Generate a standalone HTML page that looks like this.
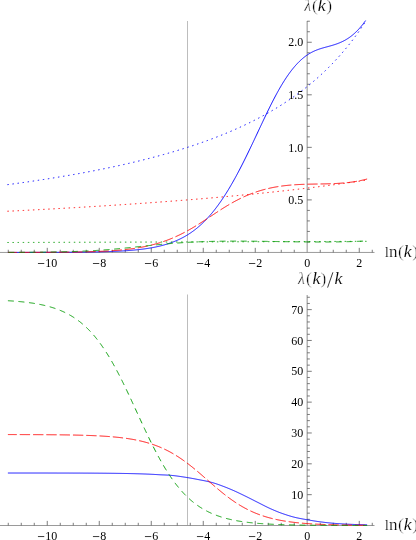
<!DOCTYPE html>
<html>
<head>
<meta charset="utf-8">
<title>lambda(k) plots</title>
<style>
html,body{margin:0;padding:0;background:#fff;}
body{width:416px;height:540px;overflow:hidden;font-family:"Liberation Serif",serif;}
svg{display:block;}
</style>
</head>
<body>
<div id="wrap" style="will-change:transform;width:416px;height:540px;background:#fff">
<svg width="416" height="540" viewBox="0 0 416 540">
<rect x="0" y="0" width="416" height="540" fill="#ffffff"/>
<rect x="187" y="21.00" width="1" height="231.45" fill="#bdbdbd"/>
<rect x="187" y="294.50" width="1" height="231.00" fill="#bdbdbd"/>
<g stroke="#808080" stroke-width="0.90" fill="none">
<line x1="0" y1="252.45" x2="374.5" y2="252.45" stroke="#8e8e8e"/>
<line x1="307.15" y1="21.00" x2="307.15" y2="252.45"/>
<line x1="0" y1="525.50" x2="374.5" y2="525.50" stroke="#8e8e8e"/>
<line x1="307.15" y1="295.00" x2="307.15" y2="525.50"/>
</g>
<g stroke="#5a5a5a" stroke-width="0.80" fill="none">
<line x1="8.25" y1="252.45" x2="8.25" y2="249.75"/>
<line x1="21.25" y1="252.45" x2="21.25" y2="249.75"/>
<line x1="34.25" y1="252.45" x2="34.25" y2="249.75"/>
<line x1="47.25" y1="252.45" x2="47.25" y2="247.85"/>
<line x1="60.25" y1="252.45" x2="60.25" y2="249.75"/>
<line x1="73.25" y1="252.45" x2="73.25" y2="249.75"/>
<line x1="86.25" y1="252.45" x2="86.25" y2="249.75"/>
<line x1="99.25" y1="252.45" x2="99.25" y2="247.85"/>
<line x1="112.25" y1="252.45" x2="112.25" y2="249.75"/>
<line x1="125.25" y1="252.45" x2="125.25" y2="249.75"/>
<line x1="138.25" y1="252.45" x2="138.25" y2="249.75"/>
<line x1="151.25" y1="252.45" x2="151.25" y2="247.85"/>
<line x1="164.25" y1="252.45" x2="164.25" y2="249.75"/>
<line x1="177.25" y1="252.45" x2="177.25" y2="249.75"/>
<line x1="190.25" y1="252.45" x2="190.25" y2="249.75"/>
<line x1="203.25" y1="252.45" x2="203.25" y2="247.85"/>
<line x1="216.25" y1="252.45" x2="216.25" y2="249.75"/>
<line x1="229.25" y1="252.45" x2="229.25" y2="249.75"/>
<line x1="242.25" y1="252.45" x2="242.25" y2="249.75"/>
<line x1="255.25" y1="252.45" x2="255.25" y2="247.85"/>
<line x1="268.25" y1="252.45" x2="268.25" y2="249.75"/>
<line x1="281.25" y1="252.45" x2="281.25" y2="249.75"/>
<line x1="294.25" y1="252.45" x2="294.25" y2="249.75"/>
<line x1="320.25" y1="252.45" x2="320.25" y2="249.75"/>
<line x1="333.25" y1="252.45" x2="333.25" y2="249.75"/>
<line x1="346.25" y1="252.45" x2="346.25" y2="249.75"/>
<line x1="359.25" y1="252.45" x2="359.25" y2="247.85"/>
<line x1="372.25" y1="252.45" x2="372.25" y2="249.75"/>
<line x1="8.25" y1="525.50" x2="8.25" y2="522.80"/>
<line x1="21.25" y1="525.50" x2="21.25" y2="522.80"/>
<line x1="34.25" y1="525.50" x2="34.25" y2="522.80"/>
<line x1="47.25" y1="525.50" x2="47.25" y2="520.90"/>
<line x1="60.25" y1="525.50" x2="60.25" y2="522.80"/>
<line x1="73.25" y1="525.50" x2="73.25" y2="522.80"/>
<line x1="86.25" y1="525.50" x2="86.25" y2="522.80"/>
<line x1="99.25" y1="525.50" x2="99.25" y2="520.90"/>
<line x1="112.25" y1="525.50" x2="112.25" y2="522.80"/>
<line x1="125.25" y1="525.50" x2="125.25" y2="522.80"/>
<line x1="138.25" y1="525.50" x2="138.25" y2="522.80"/>
<line x1="151.25" y1="525.50" x2="151.25" y2="520.90"/>
<line x1="164.25" y1="525.50" x2="164.25" y2="522.80"/>
<line x1="177.25" y1="525.50" x2="177.25" y2="522.80"/>
<line x1="190.25" y1="525.50" x2="190.25" y2="522.80"/>
<line x1="203.25" y1="525.50" x2="203.25" y2="520.90"/>
<line x1="216.25" y1="525.50" x2="216.25" y2="522.80"/>
<line x1="229.25" y1="525.50" x2="229.25" y2="522.80"/>
<line x1="242.25" y1="525.50" x2="242.25" y2="522.80"/>
<line x1="255.25" y1="525.50" x2="255.25" y2="520.90"/>
<line x1="268.25" y1="525.50" x2="268.25" y2="522.80"/>
<line x1="281.25" y1="525.50" x2="281.25" y2="522.80"/>
<line x1="294.25" y1="525.50" x2="294.25" y2="522.80"/>
<line x1="320.25" y1="525.50" x2="320.25" y2="522.80"/>
<line x1="333.25" y1="525.50" x2="333.25" y2="522.80"/>
<line x1="346.25" y1="525.50" x2="346.25" y2="522.80"/>
<line x1="359.25" y1="525.50" x2="359.25" y2="520.90"/>
<line x1="372.25" y1="525.50" x2="372.25" y2="522.80"/>
<line x1="307.15" y1="241.94" x2="309.85" y2="241.94"/>
<line x1="307.15" y1="231.43" x2="309.85" y2="231.43"/>
<line x1="307.15" y1="220.92" x2="309.85" y2="220.92"/>
<line x1="307.15" y1="210.41" x2="309.85" y2="210.41"/>
<line x1="307.15" y1="199.90" x2="311.75" y2="199.90"/>
<line x1="307.15" y1="189.39" x2="309.85" y2="189.39"/>
<line x1="307.15" y1="178.88" x2="309.85" y2="178.88"/>
<line x1="307.15" y1="168.37" x2="309.85" y2="168.37"/>
<line x1="307.15" y1="157.86" x2="309.85" y2="157.86"/>
<line x1="307.15" y1="147.35" x2="311.75" y2="147.35"/>
<line x1="307.15" y1="136.84" x2="309.85" y2="136.84"/>
<line x1="307.15" y1="126.33" x2="309.85" y2="126.33"/>
<line x1="307.15" y1="115.82" x2="309.85" y2="115.82"/>
<line x1="307.15" y1="105.31" x2="309.85" y2="105.31"/>
<line x1="307.15" y1="94.80" x2="311.75" y2="94.80"/>
<line x1="307.15" y1="84.29" x2="309.85" y2="84.29"/>
<line x1="307.15" y1="73.78" x2="309.85" y2="73.78"/>
<line x1="307.15" y1="63.27" x2="309.85" y2="63.27"/>
<line x1="307.15" y1="52.76" x2="309.85" y2="52.76"/>
<line x1="307.15" y1="42.25" x2="311.75" y2="42.25"/>
<line x1="307.15" y1="31.74" x2="309.85" y2="31.74"/>
<line x1="307.15" y1="21.23" x2="309.85" y2="21.23"/>
<line x1="307.15" y1="519.33" x2="309.85" y2="519.33"/>
<line x1="307.15" y1="513.16" x2="309.85" y2="513.16"/>
<line x1="307.15" y1="507.00" x2="309.85" y2="507.00"/>
<line x1="307.15" y1="500.83" x2="309.85" y2="500.83"/>
<line x1="307.15" y1="494.66" x2="311.75" y2="494.66"/>
<line x1="307.15" y1="488.49" x2="309.85" y2="488.49"/>
<line x1="307.15" y1="482.32" x2="309.85" y2="482.32"/>
<line x1="307.15" y1="476.16" x2="309.85" y2="476.16"/>
<line x1="307.15" y1="469.99" x2="309.85" y2="469.99"/>
<line x1="307.15" y1="463.82" x2="311.75" y2="463.82"/>
<line x1="307.15" y1="457.65" x2="309.85" y2="457.65"/>
<line x1="307.15" y1="451.48" x2="309.85" y2="451.48"/>
<line x1="307.15" y1="445.32" x2="309.85" y2="445.32"/>
<line x1="307.15" y1="439.15" x2="309.85" y2="439.15"/>
<line x1="307.15" y1="432.98" x2="311.75" y2="432.98"/>
<line x1="307.15" y1="426.81" x2="309.85" y2="426.81"/>
<line x1="307.15" y1="420.64" x2="309.85" y2="420.64"/>
<line x1="307.15" y1="414.48" x2="309.85" y2="414.48"/>
<line x1="307.15" y1="408.31" x2="309.85" y2="408.31"/>
<line x1="307.15" y1="402.14" x2="311.75" y2="402.14"/>
<line x1="307.15" y1="395.97" x2="309.85" y2="395.97"/>
<line x1="307.15" y1="389.80" x2="309.85" y2="389.80"/>
<line x1="307.15" y1="383.64" x2="309.85" y2="383.64"/>
<line x1="307.15" y1="377.47" x2="309.85" y2="377.47"/>
<line x1="307.15" y1="371.30" x2="311.75" y2="371.30"/>
<line x1="307.15" y1="365.13" x2="309.85" y2="365.13"/>
<line x1="307.15" y1="358.96" x2="309.85" y2="358.96"/>
<line x1="307.15" y1="352.80" x2="309.85" y2="352.80"/>
<line x1="307.15" y1="346.63" x2="309.85" y2="346.63"/>
<line x1="307.15" y1="340.46" x2="311.75" y2="340.46"/>
<line x1="307.15" y1="334.29" x2="309.85" y2="334.29"/>
<line x1="307.15" y1="328.12" x2="309.85" y2="328.12"/>
<line x1="307.15" y1="321.96" x2="309.85" y2="321.96"/>
<line x1="307.15" y1="315.79" x2="309.85" y2="315.79"/>
<line x1="307.15" y1="309.62" x2="311.75" y2="309.62"/>
<line x1="307.15" y1="303.45" x2="309.85" y2="303.45"/>
<line x1="307.15" y1="297.28" x2="309.85" y2="297.28"/>
</g>
<g fill="none" stroke-width="0.95" stroke-linejoin="round">
<path d="M7.91,252.43 L8.41,252.43 L8.91,252.43 L9.41,252.43 L9.91,252.43 L10.41,252.43 L10.91,252.43 L11.41,252.43 L11.91,252.43 L12.41,252.43 L12.91,252.43 L13.41,252.43 L13.91,252.43 L14.41,252.43 L14.91,252.43 L15.41,252.43 L15.91,252.42 L16.41,252.42 L16.91,252.42 L17.41,252.42 L17.91,252.42 L18.41,252.42 L18.91,252.42 L19.41,252.42 L19.91,252.42 L20.41,252.42 L20.91,252.42 L21.41,252.42 L21.91,252.42 L22.41,252.42 L22.91,252.42 L23.41,252.42 L23.91,252.42 L24.41,252.42 L24.91,252.41 L25.41,252.41 L25.91,252.41 L26.41,252.41 L26.91,252.41 L27.41,252.41 L27.91,252.41 L28.41,252.41 L28.91,252.41 L29.41,252.41 L29.91,252.41 L30.41,252.41 L30.91,252.41 L31.41,252.40 L31.91,252.40 L32.41,252.40 L32.91,252.40 L33.41,252.40 L33.91,252.40 L34.41,252.40 L34.91,252.40 L35.41,252.40 L35.91,252.40 L36.41,252.39 L36.91,252.39 L37.41,252.39 L37.91,252.39 L38.41,252.39 L38.91,252.39 L39.41,252.39 L39.91,252.39 L40.41,252.39 L40.91,252.38 L41.41,252.38 L41.91,252.38 L42.41,252.38 L42.91,252.38 L43.41,252.38 L43.91,252.38 L44.41,252.37 L44.91,252.37 L45.41,252.37 L45.91,252.37 L46.41,252.37 L46.91,252.37 L47.41,252.37 L47.91,252.36 L48.41,252.36 L48.91,252.36 L49.41,252.36 L49.91,252.36 L50.41,252.36 L50.91,252.35 L51.41,252.35 L51.91,252.35 L52.41,252.35 L52.91,252.35 L53.41,252.34 L53.91,252.34 L54.41,252.34 L54.91,252.34 L55.41,252.34 L55.91,252.33 L56.41,252.33 L56.91,252.33 L57.41,252.33 L57.91,252.32 L58.41,252.32 L58.91,252.32 L59.41,252.32 L59.91,252.31 L60.41,252.31 L60.91,252.31 L61.41,252.31 L61.91,252.30 L62.41,252.30 L62.91,252.30 L63.41,252.29 L63.91,252.29 L64.41,252.29 L64.91,252.29 L65.41,252.28 L65.91,252.28 L66.41,252.28 L66.91,252.27 L67.41,252.27 L67.91,252.27 L68.41,252.26 L68.91,252.26 L69.41,252.25 L69.91,252.25 L70.41,252.25 L70.91,252.24 L71.41,252.24 L71.91,252.23 L72.41,252.23 L72.91,252.23 L73.41,252.22 L73.91,252.22 L74.41,252.21 L74.91,252.21 L75.41,252.20 L75.91,252.20 L76.41,252.19 L76.91,252.19 L77.41,252.18 L77.91,252.18 L78.41,252.17 L78.91,252.17 L79.41,252.16 L79.91,252.16 L80.41,252.15 L80.91,252.15 L81.41,252.14 L81.91,252.13 L82.41,252.13 L82.91,252.12 L83.41,252.12 L83.91,252.11 L84.41,252.10 L84.91,252.10 L85.41,252.09 L85.91,252.08 L86.41,252.08 L86.91,252.07 L87.41,252.06 L87.91,252.05 L88.41,252.05 L88.91,252.04 L89.41,252.03 L89.91,252.02 L90.41,252.01 L90.91,252.00 L91.41,252.00 L91.91,251.99 L92.41,251.98 L92.91,251.97 L93.41,251.96 L93.91,251.95 L94.41,251.94 L94.91,251.93 L95.41,251.92 L95.91,251.91 L96.41,251.90 L96.91,251.89 L97.41,251.88 L97.91,251.87 L98.41,251.86 L98.91,251.84 L99.41,251.83 L99.91,251.82 L100.41,251.81 L100.91,251.80 L101.41,251.78 L101.91,251.77 L102.41,251.76 L102.91,251.74 L103.41,251.73 L103.91,251.71 L104.41,251.70 L104.91,251.69 L105.41,251.67 L105.91,251.66 L106.41,251.64 L106.91,251.62 L107.41,251.61 L107.91,251.59 L108.41,251.58 L108.91,251.56 L109.41,251.54 L109.91,251.52 L110.41,251.50 L110.91,251.49 L111.41,251.47 L111.91,251.45 L112.41,251.43 L112.91,251.41 L113.41,251.39 L113.91,251.37 L114.41,251.35 L114.91,251.32 L115.41,251.30 L115.91,251.28 L116.41,251.26 L116.91,251.23 L117.41,251.21 L117.91,251.18 L118.41,251.16 L118.91,251.13 L119.41,251.11 L119.91,251.08 L120.41,251.06 L120.91,251.03 L121.41,251.00 L121.91,250.97 L122.41,250.94 L122.91,250.91 L123.41,250.88 L123.91,250.85 L124.41,250.82 L124.91,250.79 L125.41,250.76 L125.91,250.72 L126.41,250.69 L126.91,250.65 L127.41,250.62 L127.91,250.58 L128.41,250.54 L128.91,250.51 L129.41,250.47 L129.91,250.43 L130.41,250.39 L130.91,250.35 L131.41,250.31 L131.91,250.27 L132.41,250.22 L132.91,250.18 L133.41,250.14 L133.91,250.09 L134.41,250.04 L134.91,250.00 L135.41,249.95 L135.91,249.90 L136.41,249.85 L136.91,249.80 L137.41,249.75 L137.91,249.69 L138.41,249.64 L138.91,249.58 L139.41,249.53 L139.91,249.47 L140.41,249.41 L140.91,249.35 L141.41,249.29 L141.91,249.23 L142.41,249.17 L142.91,249.11 L143.41,249.04 L143.91,248.97 L144.41,248.91 L144.91,248.84 L145.41,248.77 L145.91,248.69 L146.41,248.62 L146.91,248.55 L147.41,248.47 L147.91,248.39 L148.41,248.32 L148.91,248.24 L149.41,248.15 L149.91,248.07 L150.41,247.99 L150.91,247.90 L151.41,247.81 L151.91,247.72 L152.41,247.63 L152.91,247.54 L153.41,247.44 L153.91,247.35 L154.41,247.25 L154.91,247.15 L155.41,247.05 L155.91,246.94 L156.41,246.84 L156.91,246.73 L157.41,246.62 L157.91,246.51 L158.41,246.40 L158.91,246.28 L159.41,246.16 L159.91,246.04 L160.41,245.92 L160.91,245.80 L161.41,245.67 L161.91,245.54 L162.41,245.41 L162.91,245.28 L163.41,245.14 L163.91,245.00 L164.41,244.86 L164.91,244.72 L165.41,244.57 L165.91,244.42 L166.41,244.27 L166.91,244.12 L167.41,243.96 L167.91,243.80 L168.41,243.64 L168.91,243.48 L169.41,243.31 L169.91,243.14 L170.41,242.97 L170.91,242.79 L171.41,242.61 L171.91,242.43 L172.41,242.24 L172.91,242.05 L173.41,241.86 L173.91,241.66 L174.41,241.46 L174.91,241.26 L175.41,241.06 L175.91,240.85 L176.41,240.63 L176.91,240.42 L177.41,240.20 L177.91,239.97 L178.41,239.74 L178.91,239.51 L179.41,239.28 L179.91,239.04 L180.41,238.79 L180.91,238.55 L181.41,238.29 L181.91,238.04 L182.41,237.78 L182.91,237.51 L183.41,237.25 L183.91,236.97 L184.41,236.70 L184.91,236.41 L185.41,236.13 L185.91,235.84 L186.41,235.54 L186.91,235.24 L187.41,234.94 L187.91,234.63 L188.41,234.31 L188.91,233.99 L189.41,233.67 L189.91,233.34 L190.41,233.00 L190.91,232.66 L191.41,232.32 L191.91,231.97 L192.41,231.61 L192.91,231.25 L193.41,230.89 L193.91,230.51 L194.41,230.14 L194.91,229.75 L195.41,229.37 L195.91,228.97 L196.41,228.57 L196.91,228.17 L197.41,227.76 L197.91,227.34 L198.41,226.92 L198.91,226.49 L199.41,226.05 L199.91,225.61 L200.41,225.16 L200.91,224.71 L201.41,224.25 L201.91,223.79 L202.41,223.32 L202.91,222.84 L203.41,222.35 L203.91,221.86 L204.41,221.37 L204.91,220.86 L205.41,220.35 L205.91,219.84 L206.41,219.31 L206.91,218.78 L207.41,218.25 L207.91,217.70 L208.41,217.16 L208.91,216.60 L209.41,216.04 L209.91,215.47 L210.41,214.89 L210.91,214.31 L211.41,213.72 L211.91,213.12 L212.41,212.52 L212.91,211.91 L213.41,211.29 L213.91,210.67 L214.41,210.04 L214.91,209.40 L215.41,208.76 L215.91,208.10 L216.41,207.45 L216.91,206.78 L217.41,206.11 L217.91,205.43 L218.41,204.75 L218.91,204.05 L219.41,203.35 L219.91,202.65 L220.41,201.94 L220.91,201.22 L221.41,200.49 L221.91,199.76 L222.41,199.01 L222.91,198.27 L223.41,197.51 L223.91,196.75 L224.41,195.98 L224.91,195.21 L225.41,194.43 L225.91,193.64 L226.41,192.85 L226.91,192.04 L227.41,191.24 L227.91,190.42 L228.41,189.60 L228.91,188.77 L229.41,187.94 L229.91,187.10 L230.41,186.25 L230.91,185.39 L231.41,184.53 L231.91,183.67 L232.41,182.79 L232.91,181.92 L233.41,181.03 L233.91,180.14 L234.41,179.24 L234.91,178.34 L235.41,177.43 L235.91,176.51 L236.41,175.59 L236.91,174.67 L237.41,173.73 L237.91,172.80 L238.41,171.85 L238.91,170.90 L239.41,169.95 L239.91,168.99 L240.41,168.03 L240.91,167.06 L241.41,166.08 L241.91,165.10 L242.41,164.12 L242.91,163.13 L243.41,162.14 L243.91,161.14 L244.41,160.14 L244.91,159.13 L245.41,158.12 L245.91,157.11 L246.41,156.09 L246.91,155.07 L247.41,154.04 L247.91,153.02 L248.41,151.98 L248.91,150.95 L249.41,149.91 L249.91,148.87 L250.41,147.83 L250.91,146.78 L251.41,145.73 L251.91,144.68 L252.41,143.63 L252.91,142.57 L253.41,141.52 L253.91,140.46 L254.41,139.40 L254.91,138.34 L255.41,137.28 L255.91,136.21 L256.41,135.15 L256.91,134.08 L257.41,133.02 L257.91,131.95 L258.41,130.89 L258.91,129.82 L259.41,128.76 L259.91,127.69 L260.41,126.63 L260.91,125.56 L261.41,124.50 L261.91,123.44 L262.41,122.38 L262.91,121.32 L263.41,120.27 L263.91,119.22 L264.41,118.16 L264.91,117.12 L265.41,116.07 L265.91,115.03 L266.41,113.99 L266.91,112.95 L267.41,111.92 L267.91,110.89 L268.41,109.87 L268.91,108.85 L269.41,107.83 L269.91,106.82 L270.41,105.81 L270.91,104.81 L271.41,103.82 L271.91,102.83 L272.41,101.85 L272.91,100.87 L273.41,99.90 L273.91,98.94 L274.41,97.98 L274.91,97.03 L275.41,96.09 L275.91,95.15 L276.41,94.22 L276.91,93.30 L277.41,92.39 L277.91,91.49 L278.41,90.59 L278.91,89.70 L279.41,88.82 L279.91,87.95 L280.41,87.09 L280.91,86.24 L281.41,85.39 L281.91,84.56 L282.41,83.73 L282.91,82.92 L283.41,82.11 L283.91,81.31 L284.41,80.52 L284.91,79.74 L285.41,78.97 L285.91,78.21 L286.41,77.46 L286.91,76.72 L287.41,75.99 L287.91,75.26 L288.41,74.55 L288.91,73.85 L289.41,73.16 L289.91,72.48 L290.41,71.80 L290.91,71.14 L291.41,70.49 L291.91,69.85 L292.41,69.21 L292.91,68.59 L293.41,67.98 L293.91,67.38 L294.41,66.78 L294.91,66.20 L295.41,65.63 L295.91,65.07 L296.41,64.52 L296.91,63.98 L297.41,63.44 L297.91,62.92 L298.41,62.41 L298.91,61.91 L299.41,61.42 L299.91,60.94 L300.41,60.46 L300.91,60.00 L301.41,59.55 L301.91,59.11 L302.41,58.68 L302.91,58.25 L303.41,57.84 L303.91,57.43 L304.41,57.04 L304.91,56.65 L305.41,56.28 L305.91,55.91 L306.41,55.55 L306.91,55.20 L307.41,54.86 L307.91,54.53 L308.41,54.21 L308.91,53.89 L309.41,53.59 L309.91,53.29 L310.41,53.00 L310.91,52.72 L311.41,52.45 L311.91,52.18 L312.41,51.93 L312.91,51.68 L313.41,51.44 L313.91,51.20 L314.41,50.98 L314.91,50.76 L315.41,50.54 L315.91,50.33 L316.41,50.13 L316.91,49.94 L317.41,49.75 L317.91,49.56 L318.41,49.38 L318.91,49.21 L319.41,49.04 L319.91,48.87 L320.41,48.71 L320.91,48.55 L321.41,48.40 L321.91,48.25 L322.41,48.10 L322.91,47.95 L323.41,47.81 L323.91,47.67 L324.41,47.53 L324.91,47.39 L325.41,47.25 L325.91,47.12 L326.41,46.98 L326.91,46.85 L327.41,46.71 L327.91,46.58 L328.41,46.44 L328.91,46.31 L329.41,46.17 L329.91,46.03 L330.41,45.89 L330.91,45.75 L331.41,45.61 L331.91,45.46 L332.41,45.32 L332.91,45.16 L333.41,45.01 L333.91,44.85 L334.41,44.69 L334.91,44.53 L335.41,44.36 L335.91,44.19 L336.41,44.02 L336.91,43.84 L337.41,43.66 L337.91,43.47 L338.41,43.28 L338.91,43.08 L339.41,42.88 L339.91,42.67 L340.41,42.45 L340.91,42.23 L341.41,42.01 L341.91,41.78 L342.41,41.54 L342.91,41.30 L343.41,41.05 L343.91,40.79 L344.41,40.52 L344.91,40.25 L345.41,39.97 L345.91,39.69 L346.41,39.39 L346.91,39.09 L347.41,38.78 L347.91,38.46 L348.41,38.13 L348.91,37.79 L349.41,37.44 L349.91,37.09 L350.41,36.72 L350.91,36.34 L351.41,35.96 L351.91,35.57 L352.41,35.16 L352.91,34.75 L353.41,34.32 L353.91,33.89 L354.41,33.44 L354.91,32.99 L355.41,32.52 L355.91,32.05 L356.41,31.56 L356.91,31.06 L357.41,30.56 L357.91,30.04 L358.41,29.51 L358.91,28.96 L359.41,28.41 L359.91,27.85 L360.41,27.27 L360.91,26.68 L361.41,26.08 L361.91,25.46 L362.41,24.84 L362.91,24.20 L363.41,23.55 L363.91,22.89 L364.41,22.21 L364.91,21.52 L365.41,20.82 L365.60,20.55" stroke="#0000ff"/>
<path d="M7.91,252.42 L8.41,252.42 L8.91,252.42 L9.41,252.42 L9.91,252.41 L10.41,252.41 L10.91,252.41 L11.41,252.41 L11.91,252.41 L12.41,252.41 L12.91,252.41 L13.41,252.41 L13.91,252.41 L14.41,252.41 L14.91,252.41 L15.41,252.41 L15.91,252.41 L16.41,252.41 L16.91,252.40 L17.41,252.40 L17.91,252.40 L18.41,252.40 L18.91,252.40 L19.41,252.40 L19.91,252.40 L20.41,252.40 L20.91,252.40 L21.41,252.40 L21.91,252.39 L22.41,252.39 L22.91,252.39 L23.41,252.39 L23.91,252.39 L24.41,252.39 L24.91,252.39 L25.41,252.39 L25.91,252.39 L26.41,252.38 L26.91,252.38 L27.41,252.38 L27.91,252.38 L28.41,252.38 L28.91,252.38 L29.41,252.38 L29.91,252.38 L30.41,252.37 L30.91,252.37 L31.41,252.37 L31.91,252.37 L32.41,252.37 L32.91,252.37 L33.41,252.37 L33.91,252.36 L34.41,252.36 L34.91,252.36 L35.41,252.36 L35.91,252.36 L36.41,252.36 L36.91,252.35 L37.41,252.35 L37.91,252.35 L38.41,252.35 L38.91,252.35 L39.41,252.34 L39.91,252.34 L40.41,252.34 L40.91,252.34 L41.41,252.34 L41.91,252.33 L42.41,252.33 L42.91,252.33 L43.41,252.33 L43.91,252.32 L44.41,252.32 L44.91,252.32 L45.41,252.32 L45.91,252.31 L46.41,252.31 L46.91,252.31 L47.41,252.31 L47.91,252.30 L48.41,252.30 L48.91,252.30 L49.41,252.29 L49.91,252.29 L50.41,252.29 L50.91,252.29 L51.41,252.28 L51.91,252.28 L52.41,252.28 L52.91,252.27 L53.41,252.27 L53.91,252.27 L54.41,252.26 L54.91,252.26 L55.41,252.25 L55.91,252.25 L56.41,252.25 L56.91,252.24 L57.41,252.24 L57.91,252.24 L58.41,252.23 L58.91,252.23 L59.41,252.22 L59.91,252.22 L60.41,252.21 L60.91,252.21 L61.41,252.20 L61.91,252.20 L62.41,252.19 L62.91,252.19 L63.41,252.18 L63.91,252.18 L64.41,252.17 L64.91,252.17 L65.41,252.16 L65.91,252.16 L66.41,252.15 L66.91,252.15 L67.41,252.14 L67.91,252.13 L68.41,252.13 L68.91,252.12 L69.41,252.12 L69.91,252.11 L70.41,252.10 L70.91,252.10 L71.41,252.09 L71.91,252.08 L72.41,252.08 L72.91,252.07 L73.41,252.06 L73.91,252.05 L74.41,252.04 L74.91,252.04 L75.41,252.03 L75.91,252.02 L76.41,252.01 L76.91,252.00 L77.41,252.00 L77.91,251.99 L78.41,251.98 L78.91,251.97 L79.41,251.96 L79.91,251.95 L80.41,251.94 L80.91,251.93 L81.41,251.92 L81.91,251.91 L82.41,251.90 L82.91,251.89 L83.41,251.88 L83.91,251.86 L84.41,251.85 L84.91,251.84 L85.41,251.83 L85.91,251.82 L86.41,251.80 L86.91,251.79 L87.41,251.78 L87.91,251.77 L88.41,251.75 L88.91,251.74 L89.41,251.72 L89.91,251.71 L90.41,251.70 L90.91,251.68 L91.41,251.67 L91.91,251.65 L92.41,251.64 L92.91,251.62 L93.41,251.60 L93.91,251.59 L94.41,251.57 L94.91,251.55 L95.41,251.53 L95.91,251.52 L96.41,251.50 L96.91,251.48 L97.41,251.46 L97.91,251.44 L98.41,251.42 L98.91,251.40 L99.41,251.38 L99.91,251.36 L100.41,251.34 L100.91,251.31 L101.41,251.29 L101.91,251.27 L102.41,251.25 L102.91,251.22 L103.41,251.20 L103.91,251.17 L104.41,251.15 L104.91,251.12 L105.41,251.10 L105.91,251.07 L106.41,251.04 L106.91,251.02 L107.41,250.99 L107.91,250.96 L108.41,250.93 L108.91,250.90 L109.41,250.87 L109.91,250.84 L110.41,250.81 L110.91,250.78 L111.41,250.75 L111.91,250.71 L112.41,250.68 L112.91,250.64 L113.41,250.61 L113.91,250.57 L114.41,250.54 L114.91,250.50 L115.41,250.46 L115.91,250.42 L116.41,250.38 L116.91,250.34 L117.41,250.30 L117.91,250.26 L118.41,250.22 L118.91,250.18 L119.41,250.13 L119.91,250.09 L120.41,250.04 L120.91,250.00 L121.41,249.95 L121.91,249.90 L122.41,249.86 L122.91,249.81 L123.41,249.76 L123.91,249.71 L124.41,249.65 L124.91,249.60 L125.41,249.55 L125.91,249.49 L126.41,249.44 L126.91,249.38 L127.41,249.32 L127.91,249.26 L128.41,249.20 L128.91,249.14 L129.41,249.08 L129.91,249.02 L130.41,248.95 L130.91,248.89 L131.41,248.82 L131.91,248.75 L132.41,248.69 L132.91,248.62 L133.41,248.54 L133.91,248.47 L134.41,248.40 L134.91,248.33 L135.41,248.25 L135.91,248.17 L136.41,248.09 L136.91,248.02 L137.41,247.93 L137.91,247.85 L138.41,247.77 L138.91,247.68 L139.41,247.60 L139.91,247.51 L140.41,247.42 L140.91,247.33 L141.41,247.24 L141.91,247.15 L142.41,247.05 L142.91,246.96 L143.41,246.86 L143.91,246.76 L144.41,246.66 L144.91,246.56 L145.41,246.45 L145.91,246.35 L146.41,246.24 L146.91,246.13 L147.41,246.02 L147.91,245.91 L148.41,245.80 L148.91,245.68 L149.41,245.56 L149.91,245.45 L150.41,245.33 L150.91,245.20 L151.41,245.08 L151.91,244.95 L152.41,244.83 L152.91,244.70 L153.41,244.57 L153.91,244.43 L154.41,244.30 L154.91,244.16 L155.41,244.02 L155.91,243.88 L156.41,243.74 L156.91,243.60 L157.41,243.45 L157.91,243.30 L158.41,243.15 L158.91,243.00 L159.41,242.85 L159.91,242.69 L160.41,242.53 L160.91,242.37 L161.41,242.21 L161.91,242.05 L162.41,241.88 L162.91,241.71 L163.41,241.54 L163.91,241.37 L164.41,241.19 L164.91,241.02 L165.41,240.84 L165.91,240.66 L166.41,240.47 L166.91,240.29 L167.41,240.10 L167.91,239.91 L168.41,239.72 L168.91,239.52 L169.41,239.33 L169.91,239.13 L170.41,238.93 L170.91,238.73 L171.41,238.52 L171.91,238.31 L172.41,238.10 L172.91,237.89 L173.41,237.68 L173.91,237.46 L174.41,237.24 L174.91,237.02 L175.41,236.80 L175.91,236.57 L176.41,236.35 L176.91,236.12 L177.41,235.89 L177.91,235.65 L178.41,235.42 L178.91,235.18 L179.41,234.94 L179.91,234.70 L180.41,234.45 L180.91,234.20 L181.41,233.95 L181.91,233.70 L182.41,233.45 L182.91,233.19 L183.41,232.94 L183.91,232.68 L184.41,232.42 L184.91,232.15 L185.41,231.89 L185.91,231.62 L186.41,231.35 L186.91,231.08 L187.41,230.80 L187.91,230.53 L188.41,230.25 L188.91,229.97 L189.41,229.69 L189.91,229.40 L190.41,229.12 L190.91,228.83 L191.41,228.54 L191.91,228.25 L192.41,227.95 L192.91,227.66 L193.41,227.36 L193.91,227.07 L194.41,226.77 L194.91,226.46 L195.41,226.16 L195.91,225.86 L196.41,225.55 L196.91,225.24 L197.41,224.93 L197.91,224.62 L198.41,224.31 L198.91,224.00 L199.41,223.68 L199.91,223.37 L200.41,223.05 L200.91,222.73 L201.41,222.41 L201.91,222.09 L202.41,221.77 L202.91,221.45 L203.41,221.12 L203.91,220.80 L204.41,220.47 L204.91,220.15 L205.41,219.82 L205.91,219.49 L206.41,219.16 L206.91,218.83 L207.41,218.50 L207.91,218.17 L208.41,217.84 L208.91,217.51 L209.41,217.18 L209.91,216.85 L210.41,216.52 L210.91,216.19 L211.41,215.85 L211.91,215.52 L212.41,215.19 L212.91,214.86 L213.41,214.53 L213.91,214.19 L214.41,213.86 L214.91,213.53 L215.41,213.20 L215.91,212.87 L216.41,212.54 L216.91,212.21 L217.41,211.89 L217.91,211.56 L218.41,211.23 L218.91,210.91 L219.41,210.58 L219.91,210.26 L220.41,209.94 L220.91,209.62 L221.41,209.30 L221.91,208.98 L222.41,208.66 L222.91,208.35 L223.41,208.03 L223.91,207.72 L224.41,207.41 L224.91,207.10 L225.41,206.79 L225.91,206.49 L226.41,206.18 L226.91,205.88 L227.41,205.58 L227.91,205.28 L228.41,204.98 L228.91,204.69 L229.41,204.39 L229.91,204.10 L230.41,203.81 L230.91,203.52 L231.41,203.24 L231.91,202.95 L232.41,202.67 L232.91,202.39 L233.41,202.12 L233.91,201.84 L234.41,201.57 L234.91,201.30 L235.41,201.03 L235.91,200.76 L236.41,200.50 L236.91,200.23 L237.41,199.97 L237.91,199.72 L238.41,199.46 L238.91,199.21 L239.41,198.96 L239.91,198.71 L240.41,198.46 L240.91,198.22 L241.41,197.98 L241.91,197.74 L242.41,197.50 L242.91,197.27 L243.41,197.04 L243.91,196.81 L244.41,196.58 L244.91,196.36 L245.41,196.14 L245.91,195.92 L246.41,195.70 L246.91,195.48 L247.41,195.27 L247.91,195.06 L248.41,194.85 L248.91,194.65 L249.41,194.45 L249.91,194.25 L250.41,194.05 L250.91,193.85 L251.41,193.66 L251.91,193.47 L252.41,193.28 L252.91,193.10 L253.41,192.92 L253.91,192.73 L254.41,192.56 L254.91,192.38 L255.41,192.21 L255.91,192.04 L256.41,191.87 L256.91,191.70 L257.41,191.54 L257.91,191.37 L258.41,191.21 L258.91,191.06 L259.41,190.90 L259.91,190.75 L260.41,190.60 L260.91,190.45 L261.41,190.30 L261.91,190.16 L262.41,190.02 L262.91,189.88 L263.41,189.74 L263.91,189.60 L264.41,189.47 L264.91,189.34 L265.41,189.21 L265.91,189.08 L266.41,188.96 L266.91,188.83 L267.41,188.71 L267.91,188.59 L268.41,188.48 L268.91,188.36 L269.41,188.25 L269.91,188.14 L270.41,188.03 L270.91,187.92 L271.41,187.82 L271.91,187.71 L272.41,187.61 L272.91,187.51 L273.41,187.41 L273.91,187.32 L274.41,187.22 L274.91,187.13 L275.41,187.04 L275.91,186.95 L276.41,186.87 L276.91,186.78 L277.41,186.70 L277.91,186.62 L278.41,186.54 L278.91,186.46 L279.41,186.38 L279.91,186.31 L280.41,186.24 L280.91,186.17 L281.41,186.10 L281.91,186.03 L282.41,185.96 L282.91,185.90 L283.41,185.83 L283.91,185.77 L284.41,185.71 L284.91,185.65 L285.41,185.60 L285.91,185.54 L286.41,185.49 L286.91,185.43 L287.41,185.38 L287.91,185.33 L288.41,185.28 L288.91,185.24 L289.41,185.19 L289.91,185.14 L290.41,185.10 L290.91,185.06 L291.41,185.02 L291.91,184.98 L292.41,184.94 L292.91,184.90 L293.41,184.87 L293.91,184.83 L294.41,184.80 L294.91,184.76 L295.41,184.73 L295.91,184.70 L296.41,184.67 L296.91,184.64 L297.41,184.61 L297.91,184.59 L298.41,184.56 L298.91,184.54 L299.41,184.51 L299.91,184.49 L300.41,184.46 L300.91,184.44 L301.41,184.42 L301.91,184.40 L302.41,184.38 L302.91,184.36 L303.41,184.34 L303.91,184.33 L304.41,184.31 L304.91,184.29 L305.41,184.28 L305.91,184.26 L306.41,184.25 L306.91,184.23 L307.41,184.22 L307.91,184.21 L308.41,184.20 L308.91,184.18 L309.41,184.17 L309.91,184.16 L310.41,184.15 L310.91,184.14 L311.41,184.13 L311.91,184.12 L312.41,184.11 L312.91,184.10 L313.41,184.09 L313.91,184.08 L314.41,184.07 L314.91,184.06 L315.41,184.05 L315.91,184.04 L316.41,184.04 L316.91,184.03 L317.41,184.02 L317.91,184.01 L318.41,184.00 L318.91,183.99 L319.41,183.98 L319.91,183.98 L320.41,183.97 L320.91,183.96 L321.41,183.95 L321.91,183.94 L322.41,183.93 L322.91,183.92 L323.41,183.91 L323.91,183.90 L324.41,183.89 L324.91,183.88 L325.41,183.86 L325.91,183.85 L326.41,183.84 L326.91,183.83 L327.41,183.81 L327.91,183.80 L328.41,183.79 L328.91,183.77 L329.41,183.76 L329.91,183.74 L330.41,183.72 L330.91,183.71 L331.41,183.69 L331.91,183.67 L332.41,183.65 L332.91,183.63 L333.41,183.61 L333.91,183.59 L334.41,183.56 L334.91,183.54 L335.41,183.52 L335.91,183.49 L336.41,183.47 L336.91,183.44 L337.41,183.41 L337.91,183.38 L338.41,183.35 L338.91,183.32 L339.41,183.29 L339.91,183.26 L340.41,183.22 L340.91,183.19 L341.41,183.15 L341.91,183.11 L342.41,183.07 L342.91,183.03 L343.41,182.99 L343.91,182.95 L344.41,182.90 L344.91,182.86 L345.41,182.81 L345.91,182.76 L346.41,182.71 L346.91,182.66 L347.41,182.61 L347.91,182.56 L348.41,182.50 L348.91,182.44 L349.41,182.38 L349.91,182.32 L350.41,182.26 L350.91,182.20 L351.41,182.13 L351.91,182.06 L352.41,181.99 L352.91,181.92 L353.41,181.85 L353.91,181.77 L354.41,181.70 L354.91,181.62 L355.41,181.54 L355.91,181.46 L356.41,181.37 L356.91,181.28 L357.41,181.20 L357.91,181.10 L358.41,181.01 L358.91,180.92 L359.41,180.82 L359.91,180.72 L360.41,180.62 L360.91,180.51 L361.41,180.40 L361.91,180.30 L362.41,180.18 L362.91,180.07 L363.41,179.95 L363.91,179.83 L364.41,179.71 L364.91,179.59 L365.41,179.46 L365.91,179.33 L366.41,179.20 L366.91,179.06 L367.10,179.01" stroke="#ff0000" stroke-dasharray="10.2 2.94" stroke-dashoffset="1.30"/>
<path d="M7.91,252.37 L8.41,252.37 L8.91,252.37 L9.41,252.37 L9.91,252.36 L10.41,252.36 L10.91,252.36 L11.41,252.36 L11.91,252.36 L12.41,252.36 L12.91,252.35 L13.41,252.35 L13.91,252.35 L14.41,252.35 L14.91,252.35 L15.41,252.35 L15.91,252.34 L16.41,252.34 L16.91,252.34 L17.41,252.34 L17.91,252.34 L18.41,252.33 L18.91,252.33 L19.41,252.33 L19.91,252.33 L20.41,252.32 L20.91,252.32 L21.41,252.32 L21.91,252.32 L22.41,252.31 L22.91,252.31 L23.41,252.31 L23.91,252.31 L24.41,252.30 L24.91,252.30 L25.41,252.30 L25.91,252.30 L26.41,252.29 L26.91,252.29 L27.41,252.29 L27.91,252.28 L28.41,252.28 L28.91,252.28 L29.41,252.27 L29.91,252.27 L30.41,252.27 L30.91,252.26 L31.41,252.26 L31.91,252.26 L32.41,252.25 L32.91,252.25 L33.41,252.24 L33.91,252.24 L34.41,252.24 L34.91,252.23 L35.41,252.23 L35.91,252.22 L36.41,252.22 L36.91,252.21 L37.41,252.21 L37.91,252.21 L38.41,252.20 L38.91,252.20 L39.41,252.19 L39.91,252.19 L40.41,252.18 L40.91,252.18 L41.41,252.17 L41.91,252.16 L42.41,252.16 L42.91,252.15 L43.41,252.15 L43.91,252.14 L44.41,252.14 L44.91,252.13 L45.41,252.12 L45.91,252.12 L46.41,252.11 L46.91,252.11 L47.41,252.10 L47.91,252.09 L48.41,252.08 L48.91,252.08 L49.41,252.07 L49.91,252.06 L50.41,252.06 L50.91,252.05 L51.41,252.04 L51.91,252.03 L52.41,252.03 L52.91,252.02 L53.41,252.01 L53.91,252.00 L54.41,251.99 L54.91,251.98 L55.41,251.97 L55.91,251.97 L56.41,251.96 L56.91,251.95 L57.41,251.94 L57.91,251.93 L58.41,251.92 L58.91,251.91 L59.41,251.90 L59.91,251.89 L60.41,251.88 L60.91,251.87 L61.41,251.85 L61.91,251.84 L62.41,251.83 L62.91,251.82 L63.41,251.81 L63.91,251.80 L64.41,251.78 L64.91,251.77 L65.41,251.76 L65.91,251.75 L66.41,251.73 L66.91,251.72 L67.41,251.71 L67.91,251.69 L68.41,251.68 L68.91,251.67 L69.41,251.65 L69.91,251.64 L70.41,251.62 L70.91,251.61 L71.41,251.59 L71.91,251.58 L72.41,251.56 L72.91,251.54 L73.41,251.53 L73.91,251.51 L74.41,251.49 L74.91,251.48 L75.41,251.46 L75.91,251.44 L76.41,251.42 L76.91,251.41 L77.41,251.39 L77.91,251.37 L78.41,251.35 L78.91,251.33 L79.41,251.31 L79.91,251.29 L80.41,251.27 L80.91,251.25 L81.41,251.23 L81.91,251.21 L82.41,251.19 L82.91,251.17 L83.41,251.14 L83.91,251.12 L84.41,251.10 L84.91,251.08 L85.41,251.05 L85.91,251.03 L86.41,251.00 L86.91,250.98 L87.41,250.95 L87.91,250.93 L88.41,250.90 L88.91,250.88 L89.41,250.85 L89.91,250.83 L90.41,250.80 L90.91,250.77 L91.41,250.74 L91.91,250.72 L92.41,250.69 L92.91,250.66 L93.41,250.63 L93.91,250.60 L94.41,250.57 L94.91,250.54 L95.41,250.51 L95.91,250.48 L96.41,250.45 L96.91,250.42 L97.41,250.39 L97.91,250.35 L98.41,250.32 L98.91,250.29 L99.41,250.26 L99.91,250.22 L100.41,250.19 L100.91,250.15 L101.41,250.12 L101.91,250.08 L102.41,250.05 L102.91,250.01 L103.41,249.97 L103.91,249.94 L104.41,249.90 L104.91,249.86 L105.41,249.83 L105.91,249.79 L106.41,249.75 L106.91,249.71 L107.41,249.67 L107.91,249.63 L108.41,249.59 L108.91,249.55 L109.41,249.51 L109.91,249.47 L110.41,249.43 L110.91,249.38 L111.41,249.34 L111.91,249.30 L112.41,249.26 L112.91,249.21 L113.41,249.17 L113.91,249.12 L114.41,249.08 L114.91,249.04 L115.41,248.99 L115.91,248.95 L116.41,248.90 L116.91,248.85 L117.41,248.81 L117.91,248.76 L118.41,248.71 L118.91,248.67 L119.41,248.62 L119.91,248.57 L120.41,248.52 L120.91,248.48 L121.41,248.43 L121.91,248.38 L122.41,248.33 L122.91,248.28 L123.41,248.23 L123.91,248.18 L124.41,248.13 L124.91,248.08 L125.41,248.03 L125.91,247.98 L126.41,247.93 L126.91,247.88 L127.41,247.83 L127.91,247.78 L128.41,247.72 L128.91,247.67 L129.41,247.62 L129.91,247.57 L130.41,247.52 L130.91,247.47 L131.41,247.41 L131.91,247.36 L132.41,247.31 L132.91,247.26 L133.41,247.21 L133.91,247.15 L134.41,247.10 L134.91,247.05 L135.41,247.00 L135.91,246.94 L136.41,246.89 L136.91,246.84 L137.41,246.79 L137.91,246.73 L138.41,246.68 L138.91,246.63 L139.41,246.57 L139.91,246.52 L140.41,246.47 L140.91,246.42 L141.41,246.36 L141.91,246.31 L142.41,246.26 L142.91,246.21 L143.41,246.15 L143.91,246.10 L144.41,246.05 L144.91,246.00 L145.41,245.94 L145.91,245.89 L146.41,245.84 L146.91,245.79 L147.41,245.74 L147.91,245.68 L148.41,245.63 L148.91,245.58 L149.41,245.53 L149.91,245.48 L150.41,245.43 L150.91,245.38 L151.41,245.33 L151.91,245.28 L152.41,245.23 L152.91,245.18 L153.41,245.13 L153.91,245.08 L154.41,245.03 L154.91,244.98 L155.41,244.93 L155.91,244.88 L156.41,244.83 L156.91,244.78 L157.41,244.73 L157.91,244.68 L158.41,244.63 L158.91,244.59 L159.41,244.54 L159.91,244.49 L160.41,244.45 L160.91,244.40 L161.41,244.35 L161.91,244.31 L162.41,244.26 L162.91,244.21 L163.41,244.17 L163.91,244.12 L164.41,244.08 L164.91,244.03 L165.41,243.99 L165.91,243.95 L166.41,243.90 L166.91,243.86 L167.41,243.81 L167.91,243.77 L168.41,243.73 L168.91,243.69 L169.41,243.65 L169.91,243.60 L170.41,243.56 L170.91,243.52 L171.41,243.48 L171.91,243.44 L172.41,243.40 L172.91,243.36 L173.41,243.32 L173.91,243.28 L174.41,243.24 L174.91,243.21 L175.41,243.17 L175.91,243.13 L176.41,243.09 L176.91,243.06 L177.41,243.02 L177.91,242.99 L178.41,242.95 L178.91,242.91 L179.41,242.88 L179.91,242.85 L180.41,242.81 L180.91,242.78 L181.41,242.74 L181.91,242.71 L182.41,242.68 L182.91,242.65 L183.41,242.61 L183.91,242.58 L184.41,242.55 L184.91,242.52 L185.41,242.49 L185.91,242.46 L186.41,242.43 L186.91,242.40 L187.41,242.37 L187.91,242.34 L188.41,242.32 L188.91,242.29 L189.41,242.26 L189.91,242.23 L190.41,242.21 L190.91,242.18 L191.41,242.16 L191.91,242.13 L192.41,242.10 L192.91,242.08 L193.41,242.06 L193.91,242.03 L194.41,242.01 L194.91,241.98 L195.41,241.96 L195.91,241.94 L196.41,241.92 L196.91,241.90 L197.41,241.87 L197.91,241.85 L198.41,241.83 L198.91,241.81 L199.41,241.79 L199.91,241.77 L200.41,241.75 L200.91,241.73 L201.41,241.72 L201.91,241.70 L202.41,241.68 L202.91,241.66 L203.41,241.64 L203.91,241.63 L204.41,241.61 L204.91,241.60 L205.41,241.58 L205.91,241.56 L206.41,241.55 L206.91,241.53 L207.41,241.52 L207.91,241.51 L208.41,241.49 L208.91,241.48 L209.41,241.46 L209.91,241.45 L210.41,241.44 L210.91,241.43 L211.41,241.41 L211.91,241.40 L212.41,241.39 L212.91,241.38 L213.41,241.37 L213.91,241.36 L214.41,241.35 L214.91,241.34 L215.41,241.33 L215.91,241.32 L216.41,241.31 L216.91,241.30 L217.41,241.29 L217.91,241.28 L218.41,241.27 L218.91,241.27 L219.41,241.26 L219.91,241.25 L220.41,241.24 L220.91,241.24 L221.41,241.23 L221.91,241.22 L222.41,241.22 L222.91,241.21 L223.41,241.21 L223.91,241.20 L224.41,241.19 L224.91,241.19 L225.41,241.18 L225.91,241.18 L226.41,241.18 L226.91,241.17 L227.41,241.17 L227.91,241.16 L228.41,241.16 L228.91,241.16 L229.41,241.15 L229.91,241.15 L230.41,241.15 L230.91,241.15 L231.41,241.14 L231.91,241.14 L232.41,241.14 L232.91,241.14 L233.41,241.14 L233.91,241.14 L234.41,241.14 L234.91,241.14 L235.41,241.14 L235.91,241.13 L236.41,241.13 L236.91,241.13 L237.41,241.13 L237.91,241.14 L238.41,241.14 L238.91,241.14 L239.41,241.14 L239.91,241.14 L240.41,241.14 L240.91,241.14 L241.41,241.14 L241.91,241.14 L242.41,241.15 L242.91,241.15 L243.41,241.15 L243.91,241.15 L244.41,241.16 L244.91,241.16 L245.41,241.16 L245.91,241.17 L246.41,241.17 L246.91,241.17 L247.41,241.18 L247.91,241.18 L248.41,241.18 L248.91,241.19 L249.41,241.19 L249.91,241.19 L250.41,241.20 L250.91,241.20 L251.41,241.21 L251.91,241.21 L252.41,241.22 L252.91,241.22 L253.41,241.23 L253.91,241.23 L254.41,241.24 L254.91,241.24 L255.41,241.25 L255.91,241.25 L256.41,241.26 L256.91,241.26 L257.41,241.27 L257.91,241.28 L258.41,241.28 L258.91,241.29 L259.41,241.29 L259.91,241.30 L260.41,241.31 L260.91,241.31 L261.41,241.32 L261.91,241.33 L262.41,241.33 L262.91,241.34 L263.41,241.35 L263.91,241.35 L264.41,241.36 L264.91,241.37 L265.41,241.37 L265.91,241.38 L266.41,241.39 L266.91,241.39 L267.41,241.40 L267.91,241.41 L268.41,241.42 L268.91,241.42 L269.41,241.43 L269.91,241.44 L270.41,241.45 L270.91,241.45 L271.41,241.46 L271.91,241.47 L272.41,241.47 L272.91,241.48 L273.41,241.49 L273.91,241.50 L274.41,241.50 L274.91,241.51 L275.41,241.52 L275.91,241.53 L276.41,241.54 L276.91,241.54 L277.41,241.55 L277.91,241.56 L278.41,241.57 L278.91,241.57 L279.41,241.58 L279.91,241.59 L280.41,241.60 L280.91,241.60 L281.41,241.61 L281.91,241.62 L282.41,241.63 L282.91,241.63 L283.41,241.64 L283.91,241.65 L284.41,241.66 L284.91,241.66 L285.41,241.67 L285.91,241.68 L286.41,241.68 L286.91,241.69 L287.41,241.70 L287.91,241.71 L288.41,241.71 L288.91,241.72 L289.41,241.73 L289.91,241.73 L290.41,241.74 L290.91,241.75 L291.41,241.76 L291.91,241.76 L292.41,241.77 L292.91,241.78 L293.41,241.78 L293.91,241.79 L294.41,241.79 L294.91,241.80 L295.41,241.81 L295.91,241.81 L296.41,241.82 L296.91,241.83 L297.41,241.83 L297.91,241.84 L298.41,241.84 L298.91,241.85 L299.41,241.85 L299.91,241.86 L300.41,241.87 L300.91,241.87 L301.41,241.88 L301.91,241.88 L302.41,241.89 L302.91,241.89 L303.41,241.90 L303.91,241.90 L304.41,241.91 L304.91,241.91 L305.41,241.91 L305.91,241.92 L306.41,241.92 L306.91,241.93 L307.41,241.93 L307.91,241.94 L308.41,241.94 L308.91,241.94 L309.41,241.95 L309.91,241.95 L310.41,241.95 L310.91,241.96 L311.41,241.96 L311.91,241.96 L312.41,241.96 L312.91,241.97 L313.41,241.97 L313.91,241.97 L314.41,241.97 L314.91,241.98 L315.41,241.98 L315.91,241.98 L316.41,241.98 L316.91,241.98 L317.41,241.98 L317.91,241.98 L318.41,241.99 L318.91,241.99 L319.41,241.99 L319.91,241.99 L320.41,241.99 L320.91,241.99 L321.41,241.99 L321.91,241.99 L322.41,241.99 L322.91,241.99 L323.41,241.98 L323.91,241.98 L324.41,241.98 L324.91,241.98 L325.41,241.98 L325.91,241.98 L326.41,241.98 L326.91,241.97 L327.41,241.97 L327.91,241.97 L328.41,241.97 L328.91,241.96 L329.41,241.96 L329.91,241.96 L330.41,241.95 L330.91,241.95 L331.41,241.94 L331.91,241.94 L332.41,241.94 L332.91,241.93 L333.41,241.93 L333.91,241.92 L334.41,241.92 L334.91,241.91 L335.41,241.90 L335.91,241.90 L336.41,241.89 L336.91,241.89 L337.41,241.88 L337.91,241.87 L338.41,241.86 L338.91,241.86 L339.41,241.85 L339.91,241.84 L340.41,241.83 L340.91,241.82 L341.41,241.81 L341.91,241.81 L342.41,241.80 L342.91,241.79 L343.41,241.78 L343.91,241.77 L344.41,241.76 L344.91,241.74 L345.41,241.73 L345.91,241.72 L346.41,241.71 L346.91,241.70 L347.41,241.69 L347.91,241.67 L348.41,241.66 L348.91,241.65 L349.41,241.63 L349.91,241.62 L350.41,241.61 L350.91,241.59 L351.41,241.58 L351.91,241.56 L352.41,241.54 L352.91,241.53 L353.41,241.51 L353.91,241.50 L354.41,241.48 L354.91,241.46 L355.41,241.44 L355.91,241.43 L356.41,241.41 L356.91,241.39 L357.41,241.37 L357.91,241.35 L358.41,241.33 L358.91,241.31 L359.41,241.29 L359.91,241.27 L360.41,241.25 L360.91,241.23 L361.41,241.20 L361.91,241.18 L362.41,241.16 L362.91,241.13 L363.41,241.11 L363.91,241.09 L364.41,241.06 L364.91,241.04 L365.41,241.01 L365.91,240.99 L366.41,240.96 L366.91,240.93 L367.10,240.92" stroke="#009a00" stroke-dasharray="5.95 4.63" stroke-dashoffset="-0.50"/>
<path d="M7.41,184.63 L7.91,184.63 L8.41,184.56 L8.91,184.50 L9.41,184.43 L9.91,184.36 L10.41,184.29 L10.91,184.23 L11.41,184.16 L11.91,184.09 L12.41,184.02 L12.91,183.95 L13.41,183.89 L13.91,183.82 L14.41,183.75 L14.91,183.68 L15.41,183.61 L15.91,183.54 L16.41,183.47 L16.91,183.40 L17.41,183.33 L17.91,183.26 L18.41,183.19 L18.91,183.12 L19.41,183.05 L19.91,182.98 L20.41,182.91 L20.91,182.84 L21.41,182.77 L21.91,182.70 L22.41,182.63 L22.91,182.56 L23.41,182.49 L23.91,182.42 L24.41,182.35 L24.91,182.27 L25.41,182.20 L25.91,182.13 L26.41,182.06 L26.91,181.99 L27.41,181.91 L27.91,181.84 L28.41,181.77 L28.91,181.70 L29.41,181.62 L29.91,181.55 L30.41,181.48 L30.91,181.40 L31.41,181.33 L31.91,181.26 L32.41,181.18 L32.91,181.11 L33.41,181.03 L33.91,180.96 L34.41,180.88 L34.91,180.81 L35.41,180.74 L35.91,180.66 L36.41,180.59 L36.91,180.51 L37.41,180.43 L37.91,180.36 L38.41,180.28 L38.91,180.21 L39.41,180.13 L39.91,180.06 L40.41,179.98 L40.91,179.90 L41.41,179.83 L41.91,179.75 L42.41,179.67 L42.91,179.59 L43.41,179.52 L43.91,179.44 L44.41,179.36 L44.91,179.28 L45.41,179.21 L45.91,179.13 L46.41,179.05 L46.91,178.97 L47.41,178.89 L47.91,178.81 L48.41,178.73 L48.91,178.65 L49.41,178.58 L49.91,178.50 L50.41,178.42 L50.91,178.34 L51.41,178.26 L51.91,178.18 L52.41,178.10 L52.91,178.02 L53.41,177.93 L53.91,177.85 L54.41,177.77 L54.91,177.69 L55.41,177.61 L55.91,177.53 L56.41,177.45 L56.91,177.36 L57.41,177.28 L57.91,177.20 L58.41,177.12 L58.91,177.03 L59.41,176.95 L59.91,176.87 L60.41,176.78 L60.91,176.70 L61.41,176.62 L61.91,176.53 L62.41,176.45 L62.91,176.37 L63.41,176.28 L63.91,176.20 L64.41,176.11 L64.91,176.03 L65.41,175.94 L65.91,175.86 L66.41,175.77 L66.91,175.69 L67.41,175.60 L67.91,175.51 L68.41,175.43 L68.91,175.34 L69.41,175.25 L69.91,175.17 L70.41,175.08 L70.91,174.99 L71.41,174.91 L71.91,174.82 L72.41,174.73 L72.91,174.64 L73.41,174.55 L73.91,174.47 L74.41,174.38 L74.91,174.29 L75.41,174.20 L75.91,174.11 L76.41,174.02 L76.91,173.93 L77.41,173.84 L77.91,173.75 L78.41,173.66 L78.91,173.57 L79.41,173.48 L79.91,173.39 L80.41,173.30 L80.91,173.21 L81.41,173.11 L81.91,173.02 L82.41,172.93 L82.91,172.84 L83.41,172.75 L83.91,172.65 L84.41,172.56 L84.91,172.47 L85.41,172.37 L85.91,172.28 L86.41,172.19 L86.91,172.09 L87.41,172.00 L87.91,171.90 L88.41,171.81 L88.91,171.71 L89.41,171.62 L89.91,171.52 L90.41,171.43 L90.91,171.33 L91.41,171.24 L91.91,171.14 L92.41,171.04 L92.91,170.95 L93.41,170.85 L93.91,170.75 L94.41,170.66 L94.91,170.56 L95.41,170.46 L95.91,170.36 L96.41,170.27 L96.91,170.17 L97.41,170.07 L97.91,169.97 L98.41,169.87 L98.91,169.77 L99.41,169.67 L99.91,169.57 L100.41,169.47 L100.91,169.37 L101.41,169.27 L101.91,169.17 L102.41,169.07 L102.91,168.97 L103.41,168.87 L103.91,168.76 L104.41,168.66 L104.91,168.56 L105.41,168.46 L105.91,168.35 L106.41,168.25 L106.91,168.15 L107.41,168.04 L107.91,167.94 L108.41,167.84 L108.91,167.73 L109.41,167.63 L109.91,167.52 L110.41,167.42 L110.91,167.31 L111.41,167.21 L111.91,167.10 L112.41,166.99 L112.91,166.89 L113.41,166.78 L113.91,166.67 L114.41,166.57 L114.91,166.46 L115.41,166.35 L115.91,166.24 L116.41,166.13 L116.91,166.03 L117.41,165.92 L117.91,165.81 L118.41,165.70 L118.91,165.59 L119.41,165.48 L119.91,165.37 L120.41,165.26 L120.91,165.15 L121.41,165.04 L121.91,164.92 L122.41,164.81 L122.91,164.70 L123.41,164.59 L123.91,164.48 L124.41,164.36 L124.91,164.25 L125.41,164.14 L125.91,164.02 L126.41,163.91 L126.91,163.79 L127.41,163.68 L127.91,163.56 L128.41,163.45 L128.91,163.33 L129.41,163.22 L129.91,163.10 L130.41,162.99 L130.91,162.87 L131.41,162.75 L131.91,162.63 L132.41,162.52 L132.91,162.40 L133.41,162.28 L133.91,162.16 L134.41,162.04 L134.91,161.92 L135.41,161.80 L135.91,161.69 L136.41,161.56 L136.91,161.44 L137.41,161.32 L137.91,161.20 L138.41,161.08 L138.91,160.96 L139.41,160.84 L139.91,160.72 L140.41,160.59 L140.91,160.47 L141.41,160.35 L141.91,160.22 L142.41,160.10 L142.91,159.97 L143.41,159.85 L143.91,159.72 L144.41,159.60 L144.91,159.47 L145.41,159.35 L145.91,159.22 L146.41,159.09 L146.91,158.97 L147.41,158.84 L147.91,158.71 L148.41,158.58 L148.91,158.46 L149.41,158.33 L149.91,158.20 L150.41,158.07 L150.91,157.94 L151.41,157.81 L151.91,157.68 L152.41,157.55 L152.91,157.41 L153.41,157.28 L153.91,157.15 L154.41,157.02 L154.91,156.89 L155.41,156.75 L155.91,156.62 L156.41,156.49 L156.91,156.35 L157.41,156.22 L157.91,156.08 L158.41,155.95 L158.91,155.81 L159.41,155.67 L159.91,155.54 L160.41,155.40 L160.91,155.26 L161.41,155.13 L161.91,154.99 L162.41,154.85 L162.91,154.71 L163.41,154.57 L163.91,154.43 L164.41,154.29 L164.91,154.15 L165.41,154.01 L165.91,153.87 L166.41,153.73 L166.91,153.58 L167.41,153.44 L167.91,153.30 L168.41,153.16 L168.91,153.01 L169.41,152.87 L169.91,152.72 L170.41,152.58 L170.91,152.43 L171.41,152.29 L171.91,152.14 L172.41,151.99 L172.91,151.85 L173.41,151.70 L173.91,151.55 L174.41,151.40 L174.91,151.25 L175.41,151.10 L175.91,150.95 L176.41,150.80 L176.91,150.65 L177.41,150.50 L177.91,150.35 L178.41,150.20 L178.91,150.05 L179.41,149.89 L179.91,149.74 L180.41,149.59 L180.91,149.43 L181.41,149.28 L181.91,149.12 L182.41,148.97 L182.91,148.81 L183.41,148.65 L183.91,148.50 L184.41,148.34 L184.91,148.18 L185.41,148.02 L185.91,147.86 L186.41,147.70 L186.91,147.54 L187.41,147.38 L187.91,147.22 L188.41,147.06 L188.91,146.90 L189.41,146.74 L189.91,146.57 L190.41,146.41 L190.91,146.25 L191.41,146.08 L191.91,145.92 L192.41,145.75 L192.91,145.58 L193.41,145.42 L193.91,145.25 L194.41,145.08 L194.91,144.91 L195.41,144.75 L195.91,144.58 L196.41,144.41 L196.91,144.24 L197.41,144.07 L197.91,143.90 L198.41,143.72 L198.91,143.55 L199.41,143.38 L199.91,143.20 L200.41,143.03 L200.91,142.86 L201.41,142.68 L201.91,142.50 L202.41,142.33 L202.91,142.15 L203.41,141.97 L203.91,141.80 L204.41,141.62 L204.91,141.44 L205.41,141.26 L205.91,141.08 L206.41,140.90 L206.91,140.72 L207.41,140.53 L207.91,140.35 L208.41,140.17 L208.91,139.98 L209.41,139.80 L209.91,139.61 L210.41,139.43 L210.91,139.24 L211.41,139.06 L211.91,138.87 L212.41,138.68 L212.91,138.49 L213.41,138.30 L213.91,138.11 L214.41,137.92 L214.91,137.73 L215.41,137.54 L215.91,137.35 L216.41,137.15 L216.91,136.96 L217.41,136.76 L217.91,136.57 L218.41,136.37 L218.91,136.18 L219.41,135.98 L219.91,135.78 L220.41,135.58 L220.91,135.38 L221.41,135.18 L221.91,134.98 L222.41,134.78 L222.91,134.58 L223.41,134.38 L223.91,134.17 L224.41,133.97 L224.91,133.76 L225.41,133.56 L225.91,133.35 L226.41,133.15 L226.91,132.94 L227.41,132.73 L227.91,132.52 L228.41,132.31 L228.91,132.10 L229.41,131.89 L229.91,131.68 L230.41,131.46 L230.91,131.25 L231.41,131.04 L231.91,130.82 L232.41,130.61 L232.91,130.39 L233.41,130.17 L233.91,129.95 L234.41,129.74 L234.91,129.52 L235.41,129.30 L235.91,129.07 L236.41,128.85 L236.91,128.63 L237.41,128.41 L237.91,128.18 L238.41,127.96 L238.91,127.73 L239.41,127.50 L239.91,127.28 L240.41,127.05 L240.91,126.82 L241.41,126.59 L241.91,126.36 L242.41,126.12 L242.91,125.89 L243.41,125.66 L243.91,125.42 L244.41,125.19 L244.91,124.95 L245.41,124.71 L245.91,124.48 L246.41,124.24 L246.91,124.00 L247.41,123.76 L247.91,123.52 L248.41,123.27 L248.91,123.03 L249.41,122.78 L249.91,122.54 L250.41,122.29 L250.91,122.05 L251.41,121.80 L251.91,121.55 L252.41,121.30 L252.91,121.05 L253.41,120.80 L253.91,120.54 L254.41,120.29 L254.91,120.03 L255.41,119.78 L255.91,119.52 L256.41,119.26 L256.91,119.01 L257.41,118.75 L257.91,118.49 L258.41,118.22 L258.91,117.96 L259.41,117.70 L259.91,117.43 L260.41,117.17 L260.91,116.90 L261.41,116.63 L261.91,116.36 L262.41,116.09 L262.91,115.82 L263.41,115.55 L263.91,115.27 L264.41,115.00 L264.91,114.72 L265.41,114.45 L265.91,114.17 L266.41,113.89 L266.91,113.61 L267.41,113.33 L267.91,113.05 L268.41,112.76 L268.91,112.48 L269.41,112.19 L269.91,111.91 L270.41,111.62 L270.91,111.33 L271.41,111.04 L271.91,110.75 L272.41,110.45 L272.91,110.16 L273.41,109.86 L273.91,109.57 L274.41,109.27 L274.91,108.97 L275.41,108.67 L275.91,108.37 L276.41,108.06 L276.91,107.76 L277.41,107.45 L277.91,107.15 L278.41,106.84 L278.91,106.53 L279.41,106.22 L279.91,105.91 L280.41,105.59 L280.91,105.28 L281.41,104.96 L281.91,104.65 L282.41,104.33 L282.91,104.01 L283.41,103.69 L283.91,103.36 L284.41,103.04 L284.91,102.71 L285.41,102.39 L285.91,102.06 L286.41,101.73 L286.91,101.40 L287.41,101.06 L287.91,100.73 L288.41,100.39 L288.91,100.05 L289.41,99.72 L289.91,99.38 L290.41,99.03 L290.91,98.69 L291.41,98.34 L291.91,98.00 L292.41,97.65 L292.91,97.30 L293.41,96.95 L293.91,96.60 L294.41,96.24 L294.91,95.89 L295.41,95.53 L295.91,95.17 L296.41,94.81 L296.91,94.44 L297.41,94.08 L297.91,93.71 L298.41,93.35 L298.91,92.98 L299.41,92.61 L299.91,92.23 L300.41,91.86 L300.91,91.48 L301.41,91.10 L301.91,90.72 L302.41,90.34 L302.91,89.96 L303.41,89.57 L303.91,89.19 L304.41,88.80 L304.91,88.41 L305.41,88.01 L305.91,87.62 L306.41,87.22 L306.91,86.82 L307.41,86.42 L307.91,86.02 L308.41,85.62 L308.91,85.21 L309.41,84.80 L309.91,84.39 L310.41,83.98 L310.91,83.57 L311.41,83.15 L311.91,82.73 L312.41,82.31 L312.91,81.89 L313.41,81.46 L313.91,81.04 L314.41,80.61 L314.91,80.18 L315.41,79.74 L315.91,79.31 L316.41,78.87 L316.91,78.43 L317.41,77.99 L317.91,77.54 L318.41,77.10 L318.91,76.65 L319.41,76.20 L319.91,75.74 L320.41,75.29 L320.91,74.83 L321.41,74.37 L321.91,73.91 L322.41,73.44 L322.91,72.97 L323.41,72.50 L323.91,72.03 L324.41,71.55 L324.91,71.08 L325.41,70.60 L325.91,70.11 L326.41,69.63 L326.91,69.14 L327.41,68.65 L327.91,68.16 L328.41,67.66 L328.91,67.16 L329.41,66.66 L329.91,66.16 L330.41,65.65 L330.91,65.14 L331.41,64.63 L331.91,64.11 L332.41,63.60 L332.91,63.07 L333.41,62.55 L333.91,62.02 L334.41,61.50 L334.91,60.96 L335.41,60.43 L335.91,59.89 L336.41,59.35 L336.91,58.80 L337.41,58.26 L337.91,57.70 L338.41,57.15 L338.91,56.59 L339.41,56.03 L339.91,55.47 L340.41,54.90 L340.91,54.33 L341.41,53.76 L341.91,53.18 L342.41,52.60 L342.91,52.02 L343.41,51.43 L343.91,50.84 L344.41,50.25 L344.91,49.65 L345.41,49.05 L345.91,48.45 L346.41,47.84 L346.91,47.23 L347.41,46.62 L347.91,46.00 L348.41,45.37 L348.91,44.75 L349.41,44.12 L349.91,43.48 L350.41,42.85 L350.91,42.20 L351.41,41.56 L351.91,40.91 L352.41,40.26 L352.91,39.60 L353.41,38.94 L353.91,38.27 L354.41,37.60 L354.91,36.93 L355.41,36.25 L355.91,35.56 L356.41,34.88 L356.91,34.19 L357.41,33.49 L357.91,32.79 L358.41,32.09 L358.91,31.38 L359.41,30.66 L359.91,29.94 L360.41,29.22 L360.91,28.49 L361.41,27.76 L361.91,27.02 L362.41,26.28 L362.91,25.53 L363.41,24.78 L363.91,24.02 L364.41,23.26 L364.91,22.49 L365.41,21.72" stroke="#0000ff" stroke-dasharray="1.4 3.71" stroke-width="1.00"/>
<path d="M7.41,211.23 L7.91,211.23 L8.41,211.20 L8.91,211.18 L9.41,211.16 L9.91,211.13 L10.41,211.11 L10.91,211.08 L11.41,211.06 L11.91,211.03 L12.41,211.01 L12.91,210.98 L13.41,210.96 L13.91,210.93 L14.41,210.91 L14.91,210.88 L15.41,210.86 L15.91,210.83 L16.41,210.80 L16.91,210.78 L17.41,210.75 L17.91,210.73 L18.41,210.70 L18.91,210.68 L19.41,210.65 L19.91,210.63 L20.41,210.60 L20.91,210.58 L21.41,210.55 L21.91,210.52 L22.41,210.50 L22.91,210.47 L23.41,210.45 L23.91,210.42 L24.41,210.40 L24.91,210.37 L25.41,210.34 L25.91,210.32 L26.41,210.29 L26.91,210.27 L27.41,210.24 L27.91,210.22 L28.41,210.19 L28.91,210.16 L29.41,210.14 L29.91,210.11 L30.41,210.09 L30.91,210.06 L31.41,210.03 L31.91,210.01 L32.41,209.98 L32.91,209.95 L33.41,209.93 L33.91,209.90 L34.41,209.88 L34.91,209.85 L35.41,209.82 L35.91,209.80 L36.41,209.77 L36.91,209.74 L37.41,209.72 L37.91,209.69 L38.41,209.66 L38.91,209.64 L39.41,209.61 L39.91,209.58 L40.41,209.56 L40.91,209.53 L41.41,209.50 L41.91,209.48 L42.41,209.45 L42.91,209.42 L43.41,209.39 L43.91,209.37 L44.41,209.34 L44.91,209.31 L45.41,209.29 L45.91,209.26 L46.41,209.23 L46.91,209.20 L47.41,209.18 L47.91,209.15 L48.41,209.12 L48.91,209.10 L49.41,209.07 L49.91,209.04 L50.41,209.01 L50.91,208.99 L51.41,208.96 L51.91,208.93 L52.41,208.90 L52.91,208.88 L53.41,208.85 L53.91,208.82 L54.41,208.79 L54.91,208.76 L55.41,208.74 L55.91,208.71 L56.41,208.68 L56.91,208.65 L57.41,208.63 L57.91,208.60 L58.41,208.57 L58.91,208.54 L59.41,208.51 L59.91,208.49 L60.41,208.46 L60.91,208.43 L61.41,208.40 L61.91,208.37 L62.41,208.34 L62.91,208.32 L63.41,208.29 L63.91,208.26 L64.41,208.23 L64.91,208.20 L65.41,208.17 L65.91,208.14 L66.41,208.12 L66.91,208.09 L67.41,208.06 L67.91,208.03 L68.41,208.00 L68.91,207.97 L69.41,207.94 L69.91,207.91 L70.41,207.89 L70.91,207.86 L71.41,207.83 L71.91,207.80 L72.41,207.77 L72.91,207.74 L73.41,207.71 L73.91,207.68 L74.41,207.65 L74.91,207.62 L75.41,207.60 L75.91,207.57 L76.41,207.54 L76.91,207.51 L77.41,207.48 L77.91,207.45 L78.41,207.42 L78.91,207.39 L79.41,207.36 L79.91,207.33 L80.41,207.30 L80.91,207.27 L81.41,207.24 L81.91,207.21 L82.41,207.18 L82.91,207.15 L83.41,207.12 L83.91,207.09 L84.41,207.06 L84.91,207.03 L85.41,207.00 L85.91,206.97 L86.41,206.94 L86.91,206.91 L87.41,206.88 L87.91,206.85 L88.41,206.82 L88.91,206.79 L89.41,206.76 L89.91,206.73 L90.41,206.70 L90.91,206.67 L91.41,206.64 L91.91,206.61 L92.41,206.58 L92.91,206.55 L93.41,206.51 L93.91,206.48 L94.41,206.45 L94.91,206.42 L95.41,206.39 L95.91,206.36 L96.41,206.33 L96.91,206.30 L97.41,206.27 L97.91,206.24 L98.41,206.21 L98.91,206.17 L99.41,206.14 L99.91,206.11 L100.41,206.08 L100.91,206.05 L101.41,206.02 L101.91,205.99 L102.41,205.96 L102.91,205.92 L103.41,205.89 L103.91,205.86 L104.41,205.83 L104.91,205.80 L105.41,205.77 L105.91,205.73 L106.41,205.70 L106.91,205.67 L107.41,205.64 L107.91,205.61 L108.41,205.57 L108.91,205.54 L109.41,205.51 L109.91,205.48 L110.41,205.45 L110.91,205.41 L111.41,205.38 L111.91,205.35 L112.41,205.32 L112.91,205.28 L113.41,205.25 L113.91,205.22 L114.41,205.19 L114.91,205.15 L115.41,205.12 L115.91,205.09 L116.41,205.06 L116.91,205.02 L117.41,204.99 L117.91,204.96 L118.41,204.93 L118.91,204.89 L119.41,204.86 L119.91,204.83 L120.41,204.79 L120.91,204.76 L121.41,204.73 L121.91,204.69 L122.41,204.66 L122.91,204.63 L123.41,204.59 L123.91,204.56 L124.41,204.53 L124.91,204.49 L125.41,204.46 L125.91,204.43 L126.41,204.39 L126.91,204.36 L127.41,204.33 L127.91,204.29 L128.41,204.26 L128.91,204.22 L129.41,204.19 L129.91,204.16 L130.41,204.12 L130.91,204.09 L131.41,204.05 L131.91,204.02 L132.41,203.99 L132.91,203.95 L133.41,203.92 L133.91,203.88 L134.41,203.85 L134.91,203.82 L135.41,203.78 L135.91,203.75 L136.41,203.71 L136.91,203.68 L137.41,203.64 L137.91,203.61 L138.41,203.57 L138.91,203.54 L139.41,203.50 L139.91,203.47 L140.41,203.43 L140.91,203.40 L141.41,203.36 L141.91,203.33 L142.41,203.29 L142.91,203.26 L143.41,203.22 L143.91,203.19 L144.41,203.15 L144.91,203.12 L145.41,203.08 L145.91,203.05 L146.41,203.01 L146.91,202.97 L147.41,202.94 L147.91,202.90 L148.41,202.87 L148.91,202.83 L149.41,202.80 L149.91,202.76 L150.41,202.72 L150.91,202.69 L151.41,202.65 L151.91,202.62 L152.41,202.58 L152.91,202.54 L153.41,202.51 L153.91,202.47 L154.41,202.43 L154.91,202.40 L155.41,202.36 L155.91,202.32 L156.41,202.29 L156.91,202.25 L157.41,202.21 L157.91,202.18 L158.41,202.14 L158.91,202.10 L159.41,202.07 L159.91,202.03 L160.41,201.99 L160.91,201.96 L161.41,201.92 L161.91,201.88 L162.41,201.84 L162.91,201.81 L163.41,201.77 L163.91,201.73 L164.41,201.69 L164.91,201.66 L165.41,201.62 L165.91,201.58 L166.41,201.54 L166.91,201.51 L167.41,201.47 L167.91,201.43 L168.41,201.39 L168.91,201.35 L169.41,201.32 L169.91,201.28 L170.41,201.24 L170.91,201.20 L171.41,201.16 L171.91,201.13 L172.41,201.09 L172.91,201.05 L173.41,201.01 L173.91,200.97 L174.41,200.93 L174.91,200.89 L175.41,200.86 L175.91,200.82 L176.41,200.78 L176.91,200.74 L177.41,200.70 L177.91,200.66 L178.41,200.62 L178.91,200.58 L179.41,200.54 L179.91,200.50 L180.41,200.46 L180.91,200.43 L181.41,200.39 L181.91,200.35 L182.41,200.31 L182.91,200.27 L183.41,200.23 L183.91,200.19 L184.41,200.15 L184.91,200.11 L185.41,200.07 L185.91,200.03 L186.41,199.99 L186.91,199.95 L187.41,199.91 L187.91,199.87 L188.41,199.83 L188.91,199.79 L189.41,199.75 L189.91,199.71 L190.41,199.67 L190.91,199.63 L191.41,199.58 L191.91,199.54 L192.41,199.50 L192.91,199.46 L193.41,199.42 L193.91,199.38 L194.41,199.34 L194.91,199.30 L195.41,199.26 L195.91,199.22 L196.41,199.17 L196.91,199.13 L197.41,199.09 L197.91,199.05 L198.41,199.01 L198.91,198.97 L199.41,198.93 L199.91,198.88 L200.41,198.84 L200.91,198.80 L201.41,198.76 L201.91,198.72 L202.41,198.67 L202.91,198.63 L203.41,198.59 L203.91,198.55 L204.41,198.50 L204.91,198.46 L205.41,198.42 L205.91,198.38 L206.41,198.33 L206.91,198.29 L207.41,198.25 L207.91,198.21 L208.41,198.16 L208.91,198.12 L209.41,198.08 L209.91,198.03 L210.41,197.99 L210.91,197.95 L211.41,197.91 L211.91,197.86 L212.41,197.82 L212.91,197.77 L213.41,197.73 L213.91,197.69 L214.41,197.64 L214.91,197.60 L215.41,197.56 L215.91,197.51 L216.41,197.47 L216.91,197.42 L217.41,197.38 L217.91,197.34 L218.41,197.29 L218.91,197.25 L219.41,197.20 L219.91,197.16 L220.41,197.11 L220.91,197.07 L221.41,197.02 L221.91,196.98 L222.41,196.94 L222.91,196.89 L223.41,196.85 L223.91,196.80 L224.41,196.76 L224.91,196.71 L225.41,196.66 L225.91,196.62 L226.41,196.57 L226.91,196.53 L227.41,196.48 L227.91,196.44 L228.41,196.39 L228.91,196.35 L229.41,196.30 L229.91,196.25 L230.41,196.21 L230.91,196.16 L231.41,196.12 L231.91,196.07 L232.41,196.02 L232.91,195.98 L233.41,195.93 L233.91,195.88 L234.41,195.84 L234.91,195.79 L235.41,195.74 L235.91,195.70 L236.41,195.65 L236.91,195.60 L237.41,195.56 L237.91,195.51 L238.41,195.46 L238.91,195.41 L239.41,195.37 L239.91,195.32 L240.41,195.27 L240.91,195.22 L241.41,195.18 L241.91,195.13 L242.41,195.08 L242.91,195.03 L243.41,194.98 L243.91,194.94 L244.41,194.89 L244.91,194.84 L245.41,194.79 L245.91,194.74 L246.41,194.69 L246.91,194.65 L247.41,194.60 L247.91,194.55 L248.41,194.50 L248.91,194.45 L249.41,194.40 L249.91,194.35 L250.41,194.30 L250.91,194.25 L251.41,194.20 L251.91,194.15 L252.41,194.11 L252.91,194.06 L253.41,194.01 L253.91,193.96 L254.41,193.91 L254.91,193.86 L255.41,193.81 L255.91,193.76 L256.41,193.71 L256.91,193.66 L257.41,193.61 L257.91,193.56 L258.41,193.50 L258.91,193.45 L259.41,193.40 L259.91,193.35 L260.41,193.30 L260.91,193.25 L261.41,193.20 L261.91,193.15 L262.41,193.10 L262.91,193.05 L263.41,192.99 L263.91,192.94 L264.41,192.89 L264.91,192.84 L265.41,192.79 L265.91,192.74 L266.41,192.68 L266.91,192.63 L267.41,192.58 L267.91,192.53 L268.41,192.47 L268.91,192.42 L269.41,192.37 L269.91,192.32 L270.41,192.26 L270.91,192.21 L271.41,192.16 L271.91,192.11 L272.41,192.05 L272.91,192.00 L273.41,191.95 L273.91,191.89 L274.41,191.84 L274.91,191.79 L275.41,191.73 L275.91,191.68 L276.41,191.63 L276.91,191.57 L277.41,191.52 L277.91,191.46 L278.41,191.41 L278.91,191.35 L279.41,191.30 L279.91,191.25 L280.41,191.19 L280.91,191.14 L281.41,191.08 L281.91,191.03 L282.41,190.97 L282.91,190.92 L283.41,190.86 L283.91,190.81 L284.41,190.75 L284.91,190.70 L285.41,190.64 L285.91,190.58 L286.41,190.53 L286.91,190.47 L287.41,190.42 L287.91,190.36 L288.41,190.30 L288.91,190.25 L289.41,190.19 L289.91,190.13 L290.41,190.08 L290.91,190.02 L291.41,189.96 L291.91,189.91 L292.41,189.85 L292.91,189.79 L293.41,189.74 L293.91,189.68 L294.41,189.62 L294.91,189.56 L295.41,189.51 L295.91,189.45 L296.41,189.39 L296.91,189.33 L297.41,189.28 L297.91,189.22 L298.41,189.16 L298.91,189.10 L299.41,189.04 L299.91,188.98 L300.41,188.92 L300.91,188.87 L301.41,188.81 L301.91,188.75 L302.41,188.69 L302.91,188.63 L303.41,188.57 L303.91,188.51 L304.41,188.45 L304.91,188.39 L305.41,188.33 L305.91,188.27 L306.41,188.21 L306.91,188.15 L307.41,188.09 L307.91,188.03 L308.41,187.97 L308.91,187.91 L309.41,187.85 L309.91,187.79 L310.41,187.73 L310.91,187.67 L311.41,187.60 L311.91,187.54 L312.41,187.48 L312.91,187.42 L313.41,187.36 L313.91,187.30 L314.41,187.24 L314.91,187.17 L315.41,187.11 L315.91,187.05 L316.41,186.99 L316.91,186.92 L317.41,186.86 L317.91,186.80 L318.41,186.74 L318.91,186.67 L319.41,186.61 L319.91,186.55 L320.41,186.48 L320.91,186.42 L321.41,186.36 L321.91,186.29 L322.41,186.23 L322.91,186.17 L323.41,186.10 L323.91,186.04 L324.41,185.97 L324.91,185.91 L325.41,185.84 L325.91,185.78 L326.41,185.71 L326.91,185.65 L327.41,185.58 L327.91,185.52 L328.41,185.45 L328.91,185.39 L329.41,185.32 L329.91,185.26 L330.41,185.19 L330.91,185.13 L331.41,185.06 L331.91,184.99 L332.41,184.93 L332.91,184.86 L333.41,184.79 L333.91,184.73 L334.41,184.66 L334.91,184.59 L335.41,184.53 L335.91,184.46 L336.41,184.39 L336.91,184.32 L337.41,184.26 L337.91,184.19 L338.41,184.12 L338.91,184.05 L339.41,183.98 L339.91,183.92 L340.41,183.85 L340.91,183.78 L341.41,183.71 L341.91,183.64 L342.41,183.57 L342.91,183.50 L343.41,183.43 L343.91,183.37 L344.41,183.30 L344.91,183.23 L345.41,183.16 L345.91,183.09 L346.41,183.02 L346.91,182.95 L347.41,182.88 L347.91,182.80 L348.41,182.73 L348.91,182.66 L349.41,182.59 L349.91,182.52 L350.41,182.45 L350.91,182.38 L351.41,182.31 L351.91,182.23 L352.41,182.16 L352.91,182.09 L353.41,182.02 L353.91,181.95 L354.41,181.87 L354.91,181.80 L355.41,181.73 L355.91,181.66 L356.41,181.58 L356.91,181.51 L357.41,181.44 L357.91,181.36 L358.41,181.29 L358.91,181.22 L359.41,181.14 L359.91,181.07 L360.41,180.99 L360.91,180.92 L361.41,180.84 L361.91,180.77 L362.41,180.69 L362.91,180.62 L363.41,180.54 L363.91,180.47 L364.41,180.39 L364.91,180.32 L365.41,180.24 L365.91,180.17 L366.41,180.09 L367.12,179.98" stroke="#ff0000" stroke-dasharray="1.4 3.71" stroke-width="1.00"/>
<path d="M7.41,242.49 L7.91,242.49 L8.41,242.49 L8.91,242.48 L9.41,242.48 L9.91,242.48 L10.41,242.48 L10.91,242.48 L11.41,242.48 L11.91,242.48 L12.41,242.47 L12.91,242.47 L13.41,242.47 L13.91,242.47 L14.41,242.47 L14.91,242.47 L15.41,242.47 L15.91,242.46 L16.41,242.46 L16.91,242.46 L17.41,242.46 L17.91,242.46 L18.41,242.46 L18.91,242.46 L19.41,242.45 L19.91,242.45 L20.41,242.45 L20.91,242.45 L21.41,242.45 L21.91,242.45 L22.41,242.45 L22.91,242.44 L23.41,242.44 L23.91,242.44 L24.41,242.44 L24.91,242.44 L25.41,242.44 L25.91,242.44 L26.41,242.43 L26.91,242.43 L27.41,242.43 L27.91,242.43 L28.41,242.43 L28.91,242.43 L29.41,242.43 L29.91,242.42 L30.41,242.42 L30.91,242.42 L31.41,242.42 L31.91,242.42 L32.41,242.42 L32.91,242.41 L33.41,242.41 L33.91,242.41 L34.41,242.41 L34.91,242.41 L35.41,242.41 L35.91,242.41 L36.41,242.40 L36.91,242.40 L37.41,242.40 L37.91,242.40 L38.41,242.40 L38.91,242.40 L39.41,242.40 L39.91,242.39 L40.41,242.39 L40.91,242.39 L41.41,242.39 L41.91,242.39 L42.41,242.39 L42.91,242.39 L43.41,242.38 L43.91,242.38 L44.41,242.38 L44.91,242.38 L45.41,242.38 L45.91,242.38 L46.41,242.38 L46.91,242.37 L47.41,242.37 L47.91,242.37 L48.41,242.37 L48.91,242.37 L49.41,242.37 L49.91,242.36 L50.41,242.36 L50.91,242.36 L51.41,242.36 L51.91,242.36 L52.41,242.36 L52.91,242.36 L53.41,242.35 L53.91,242.35 L54.41,242.35 L54.91,242.35 L55.41,242.35 L55.91,242.35 L56.41,242.35 L56.91,242.34 L57.41,242.34 L57.91,242.34 L58.41,242.34 L58.91,242.34 L59.41,242.34 L59.91,242.34 L60.41,242.33 L60.91,242.33 L61.41,242.33 L61.91,242.33 L62.41,242.33 L62.91,242.33 L63.41,242.32 L63.91,242.32 L64.41,242.32 L64.91,242.32 L65.41,242.32 L65.91,242.32 L66.41,242.32 L66.91,242.31 L67.41,242.31 L67.91,242.31 L68.41,242.31 L68.91,242.31 L69.41,242.31 L69.91,242.31 L70.41,242.30 L70.91,242.30 L71.41,242.30 L71.91,242.30 L72.41,242.30 L72.91,242.30 L73.41,242.29 L73.91,242.29 L74.41,242.29 L74.91,242.29 L75.41,242.29 L75.91,242.29 L76.41,242.29 L76.91,242.28 L77.41,242.28 L77.91,242.28 L78.41,242.28 L78.91,242.28 L79.41,242.28 L79.91,242.28 L80.41,242.27 L80.91,242.27 L81.41,242.27 L81.91,242.27 L82.41,242.27 L82.91,242.27 L83.41,242.26 L83.91,242.26 L84.41,242.26 L84.91,242.26 L85.41,242.26 L85.91,242.26 L86.41,242.26 L86.91,242.25 L87.41,242.25 L87.91,242.25 L88.41,242.25 L88.91,242.25 L89.41,242.25 L89.91,242.24 L90.41,242.24 L90.91,242.24 L91.41,242.24 L91.91,242.24 L92.41,242.24 L92.91,242.24 L93.41,242.23 L93.91,242.23 L94.41,242.23 L94.91,242.23 L95.41,242.23 L95.91,242.23 L96.41,242.23 L96.91,242.22 L97.41,242.22 L97.91,242.22 L98.41,242.22 L98.91,242.22 L99.41,242.22 L99.91,242.21 L100.41,242.21 L100.91,242.21 L101.41,242.21 L101.91,242.21 L102.41,242.21 L102.91,242.21 L103.41,242.20 L103.91,242.20 L104.41,242.20 L104.91,242.20 L105.41,242.20 L105.91,242.20 L106.41,242.19 L106.91,242.19 L107.41,242.19 L107.91,242.19 L108.41,242.19 L108.91,242.19 L109.41,242.19 L109.91,242.18 L110.41,242.18 L110.91,242.18 L111.41,242.18 L111.91,242.18 L112.41,242.18 L112.91,242.17 L113.41,242.17 L113.91,242.17 L114.41,242.17 L114.91,242.17 L115.41,242.17 L115.91,242.17 L116.41,242.16 L116.91,242.16 L117.41,242.16 L117.91,242.16 L118.41,242.16 L118.91,242.16 L119.41,242.15 L119.91,242.15 L120.41,242.15 L120.91,242.15 L121.41,242.15 L121.91,242.15 L122.41,242.15 L122.91,242.14 L123.41,242.14 L123.91,242.14 L124.41,242.14 L124.91,242.14 L125.41,242.14 L125.91,242.13 L126.41,242.13 L126.91,242.13 L127.41,242.13 L127.91,242.13 L128.41,242.13 L128.91,242.13 L129.41,242.12 L129.91,242.12 L130.41,242.12 L130.91,242.12 L131.41,242.12 L131.91,242.12 L132.41,242.11 L132.91,242.11 L133.41,242.11 L133.91,242.11 L134.41,242.11 L134.91,242.11 L135.41,242.10 L135.91,242.10 L136.41,242.10 L136.91,242.10 L137.41,242.10 L137.91,242.10 L138.41,242.10 L138.91,242.09 L139.41,242.09 L139.91,242.09 L140.41,242.09 L140.91,242.09 L141.41,242.09 L141.91,242.08 L142.41,242.08 L142.91,242.08 L143.41,242.08 L143.91,242.08 L144.41,242.08 L144.91,242.08 L145.41,242.07 L145.91,242.07 L146.41,242.07 L146.91,242.07 L147.41,242.07 L147.91,242.07 L148.41,242.06 L148.91,242.06 L149.41,242.06 L149.91,242.06 L150.41,242.06 L150.91,242.06 L151.41,242.05 L151.91,242.05 L152.41,242.05 L152.91,242.05 L153.41,242.05 L153.91,242.05 L154.41,242.05 L154.91,242.04 L155.41,242.04 L155.91,242.04 L156.41,242.04 L156.91,242.04 L157.41,242.04 L157.91,242.03 L158.41,242.03 L158.91,242.03 L159.41,242.03 L159.91,242.03 L160.41,242.03 L160.91,242.02 L161.41,242.02 L161.91,242.02 L162.41,242.02 L162.91,242.02 L163.41,242.02 L163.91,242.02 L164.41,242.01 L164.91,242.01 L165.41,242.01 L165.91,242.01 L166.41,242.01 L166.91,242.01 L167.41,242.00 L167.91,242.00 L168.41,242.00 L168.91,242.00 L169.41,242.00 L169.91,242.00 L170.41,241.99 L170.91,241.99 L171.41,241.99 L171.91,241.99 L172.41,241.99 L172.91,241.99 L173.41,241.99 L173.91,241.98 L174.41,241.98 L174.91,241.98 L175.41,241.98 L175.91,241.98 L176.41,241.98 L176.91,241.97 L177.41,241.97 L177.91,241.97 L178.41,241.97 L178.91,241.97 L179.41,241.97 L179.91,241.96 L180.41,241.96 L180.91,241.96 L181.41,241.96 L181.91,241.96 L182.41,241.96 L182.91,241.95 L183.41,241.95 L183.91,241.95 L184.41,241.95 L184.91,241.95 L185.41,241.95 L185.91,241.95 L186.41,241.94 L186.91,241.94 L187.41,241.94 L187.91,241.94 L188.41,241.94 L188.91,241.94 L189.41,241.93 L189.91,241.93 L190.41,241.93 L190.91,241.93 L191.41,241.93 L191.91,241.93 L192.41,241.92 L192.91,241.92 L193.41,241.92 L193.91,241.92 L194.41,241.92 L194.91,241.92 L195.41,241.91 L195.91,241.91 L196.41,241.91 L196.91,241.91 L197.41,241.91 L197.91,241.91 L198.41,241.90 L198.91,241.90 L199.41,241.90 L199.91,241.90 L200.41,241.90 L200.91,241.90 L201.41,241.90 L201.91,241.89 L202.41,241.89 L202.91,241.89 L203.41,241.89 L203.91,241.89 L204.41,241.89 L204.91,241.88 L205.41,241.88 L205.91,241.88 L206.41,241.88 L206.91,241.88 L207.41,241.88 L207.91,241.87 L208.41,241.87 L208.91,241.87 L209.41,241.87 L209.91,241.87 L210.41,241.87 L210.91,241.86 L211.41,241.86 L211.91,241.86 L212.41,241.86 L212.91,241.86 L213.41,241.86 L213.91,241.85 L214.41,241.85 L214.91,241.85 L215.41,241.85 L215.91,241.85 L216.41,241.85 L216.91,241.84 L217.41,241.84 L217.91,241.84 L218.41,241.84 L218.91,241.84 L219.41,241.84 L219.91,241.83 L220.41,241.83 L220.91,241.83 L221.41,241.83 L221.91,241.83 L222.41,241.83 L222.91,241.82 L223.41,241.82 L223.91,241.82 L224.41,241.82 L224.91,241.82 L225.41,241.82 L225.91,241.82 L226.41,241.81 L226.91,241.81 L227.41,241.81 L227.91,241.81 L228.41,241.81 L228.91,241.81 L229.41,241.80 L229.91,241.80 L230.41,241.80 L230.91,241.80 L231.41,241.80 L231.91,241.80 L232.41,241.79 L232.91,241.79 L233.41,241.79 L233.91,241.79 L234.41,241.79 L234.91,241.79 L235.41,241.78 L235.91,241.78 L236.41,241.78 L236.91,241.78 L237.41,241.78 L237.91,241.78 L238.41,241.77 L238.91,241.77 L239.41,241.77 L239.91,241.77 L240.41,241.77 L240.91,241.77 L241.41,241.76 L241.91,241.76 L242.41,241.76 L242.91,241.76 L243.41,241.76 L243.91,241.76 L244.41,241.75 L244.91,241.75 L245.41,241.75 L245.91,241.75 L246.41,241.75 L246.91,241.75 L247.41,241.74 L247.91,241.74 L248.41,241.74 L248.91,241.74 L249.41,241.74 L249.91,241.74 L250.41,241.73 L250.91,241.73 L251.41,241.73 L251.91,241.73 L252.41,241.73 L252.91,241.73 L253.41,241.72 L253.91,241.72 L254.41,241.72 L254.91,241.72 L255.41,241.72 L255.91,241.72 L256.41,241.71 L256.91,241.71 L257.41,241.71 L257.91,241.71 L258.41,241.71 L258.91,241.71 L259.41,241.70 L259.91,241.70 L260.41,241.70 L260.91,241.70 L261.41,241.70 L261.91,241.70 L262.41,241.69 L262.91,241.69 L263.41,241.69 L263.91,241.69 L264.41,241.69 L264.91,241.68 L265.41,241.68 L265.91,241.68 L266.41,241.68 L266.91,241.68 L267.41,241.68 L267.91,241.67 L268.41,241.67 L268.91,241.67 L269.41,241.67 L269.91,241.67 L270.41,241.67 L270.91,241.66 L271.41,241.66 L271.91,241.66 L272.41,241.66 L272.91,241.66 L273.41,241.66 L273.91,241.65 L274.41,241.65 L274.91,241.65 L275.41,241.65 L275.91,241.65 L276.41,241.65 L276.91,241.64 L277.41,241.64 L277.91,241.64 L278.41,241.64 L278.91,241.64 L279.41,241.64 L279.91,241.63 L280.41,241.63 L280.91,241.63 L281.41,241.63 L281.91,241.63 L282.41,241.63 L282.91,241.62 L283.41,241.62 L283.91,241.62 L284.41,241.62 L284.91,241.62 L285.41,241.62 L285.91,241.61 L286.41,241.61 L286.91,241.61 L287.41,241.61 L287.91,241.61 L288.41,241.61 L288.91,241.60 L289.41,241.60 L289.91,241.60 L290.41,241.60 L290.91,241.60 L291.41,241.59 L291.91,241.59 L292.41,241.59 L292.91,241.59 L293.41,241.59 L293.91,241.59 L294.41,241.58 L294.91,241.58 L295.41,241.58 L295.91,241.58 L296.41,241.58 L296.91,241.58 L297.41,241.57 L297.91,241.57 L298.41,241.57 L298.91,241.57 L299.41,241.57 L299.91,241.57 L300.41,241.56 L300.91,241.56 L301.41,241.56 L301.91,241.56 L302.41,241.56 L302.91,241.56 L303.41,241.55 L303.91,241.55 L304.41,241.55 L304.91,241.55 L305.41,241.55 L305.91,241.54 L306.41,241.54 L306.91,241.54 L307.41,241.54 L307.91,241.54 L308.41,241.54 L308.91,241.53 L309.41,241.53 L309.91,241.53 L310.41,241.53 L310.91,241.53 L311.41,241.53 L311.91,241.52 L312.41,241.52 L312.91,241.52 L313.41,241.52 L313.91,241.52 L314.41,241.52 L314.91,241.51 L315.41,241.51 L315.91,241.51 L316.41,241.51 L316.91,241.51 L317.41,241.50 L317.91,241.50 L318.41,241.50 L318.91,241.50 L319.41,241.50 L319.91,241.50 L320.41,241.49 L320.91,241.49 L321.41,241.49 L321.91,241.49 L322.41,241.49 L322.91,241.49 L323.41,241.48 L323.91,241.48 L324.41,241.48 L324.91,241.48 L325.41,241.48 L325.91,241.48 L326.41,241.47 L326.91,241.47 L327.41,241.47 L327.91,241.47 L328.41,241.47 L328.91,241.46 L329.41,241.46 L329.91,241.46 L330.41,241.46 L330.91,241.46 L331.41,241.46 L331.91,241.45 L332.41,241.45 L332.91,241.45 L333.41,241.45 L333.91,241.45 L334.41,241.45 L334.91,241.44 L335.41,241.44 L335.91,241.44 L336.41,241.44 L336.91,241.44 L337.41,241.43 L337.91,241.43 L338.41,241.43 L338.91,241.43 L339.41,241.43 L339.91,241.43 L340.41,241.42 L340.91,241.42 L341.41,241.42 L341.91,241.42 L342.41,241.42 L342.91,241.42 L343.41,241.41 L343.91,241.41 L344.41,241.41 L344.91,241.41 L345.41,241.41 L345.91,241.40 L346.41,241.40 L346.91,241.40 L347.41,241.40 L347.91,241.40 L348.41,241.40 L348.91,241.39 L349.41,241.39 L349.91,241.39 L350.41,241.39 L350.91,241.39 L351.41,241.38 L351.91,241.38 L352.41,241.38 L352.91,241.38 L353.41,241.38 L353.91,241.38 L354.41,241.37 L354.91,241.37 L355.41,241.37 L355.91,241.37 L356.41,241.37 L356.91,241.37 L357.41,241.36 L357.91,241.36 L358.41,241.36 L358.91,241.36 L359.41,241.36 L359.91,241.35 L360.41,241.35 L360.91,241.35 L361.41,241.35 L361.91,241.35 L362.41,241.35 L362.91,241.34 L363.41,241.34 L363.91,241.34 L364.41,241.34 L364.91,241.34 L365.41,241.33 L365.91,241.33 L366.41,241.33 L367.12,241.33" stroke="#009a00" stroke-dasharray="1.4 3.71" stroke-width="1.00"/>
</g>
<g fill="none" stroke-width="0.95" stroke-linejoin="round">
<path d="M7.90,473.02 L8.40,473.02 L8.90,473.02 L9.40,473.02 L9.90,473.02 L10.40,473.02 L10.90,473.02 L11.40,473.02 L11.90,473.02 L12.40,473.02 L12.90,473.02 L13.40,473.02 L13.90,473.02 L14.40,473.02 L14.90,473.02 L15.40,473.02 L15.90,473.02 L16.40,473.02 L16.90,473.02 L17.40,473.02 L17.90,473.02 L18.40,473.02 L18.90,473.02 L19.40,473.02 L19.90,473.02 L20.40,473.02 L20.90,473.02 L21.40,473.02 L21.90,473.02 L22.40,473.02 L22.90,473.02 L23.40,473.02 L23.90,473.02 L24.40,473.02 L24.90,473.02 L25.40,473.02 L25.90,473.02 L26.40,473.02 L26.90,473.02 L27.40,473.02 L27.90,473.02 L28.40,473.02 L28.90,473.02 L29.40,473.02 L29.90,473.02 L30.40,473.02 L30.90,473.02 L31.40,473.02 L31.90,473.02 L32.40,473.02 L32.90,473.02 L33.40,473.02 L33.90,473.02 L34.40,473.02 L34.90,473.03 L35.40,473.03 L35.90,473.03 L36.40,473.03 L36.90,473.03 L37.40,473.03 L37.90,473.03 L38.40,473.03 L38.90,473.03 L39.40,473.03 L39.90,473.03 L40.40,473.03 L40.90,473.03 L41.40,473.03 L41.90,473.03 L42.40,473.03 L42.90,473.03 L43.40,473.03 L43.90,473.03 L44.40,473.03 L44.90,473.03 L45.40,473.03 L45.90,473.03 L46.40,473.03 L46.90,473.03 L47.40,473.03 L47.90,473.03 L48.40,473.04 L48.90,473.04 L49.40,473.04 L49.90,473.04 L50.40,473.04 L50.90,473.04 L51.40,473.04 L51.90,473.04 L52.40,473.04 L52.90,473.04 L53.40,473.04 L53.90,473.04 L54.40,473.04 L54.90,473.04 L55.40,473.04 L55.90,473.04 L56.40,473.04 L56.90,473.04 L57.40,473.05 L57.90,473.05 L58.40,473.05 L58.90,473.05 L59.40,473.05 L59.90,473.05 L60.40,473.05 L60.90,473.05 L61.40,473.05 L61.90,473.05 L62.40,473.05 L62.90,473.05 L63.40,473.05 L63.90,473.06 L64.40,473.06 L64.90,473.06 L65.40,473.06 L65.90,473.06 L66.40,473.06 L66.90,473.06 L67.40,473.06 L67.90,473.06 L68.40,473.06 L68.90,473.07 L69.40,473.07 L69.90,473.07 L70.40,473.07 L70.90,473.07 L71.40,473.07 L71.90,473.07 L72.40,473.07 L72.90,473.07 L73.40,473.08 L73.90,473.08 L74.40,473.08 L74.90,473.08 L75.40,473.08 L75.90,473.08 L76.40,473.08 L76.90,473.08 L77.40,473.09 L77.90,473.09 L78.40,473.09 L78.90,473.09 L79.40,473.09 L79.90,473.09 L80.40,473.10 L80.90,473.10 L81.40,473.10 L81.90,473.10 L82.40,473.10 L82.90,473.10 L83.40,473.11 L83.90,473.11 L84.40,473.11 L84.90,473.11 L85.40,473.11 L85.90,473.12 L86.40,473.12 L86.90,473.12 L87.40,473.12 L87.90,473.12 L88.40,473.13 L88.90,473.13 L89.40,473.13 L89.90,473.13 L90.40,473.14 L90.90,473.14 L91.40,473.14 L91.90,473.14 L92.40,473.15 L92.90,473.15 L93.40,473.15 L93.90,473.15 L94.40,473.16 L94.90,473.16 L95.40,473.16 L95.90,473.16 L96.40,473.17 L96.90,473.17 L97.40,473.17 L97.90,473.18 L98.40,473.18 L98.90,473.18 L99.40,473.19 L99.90,473.19 L100.40,473.19 L100.90,473.20 L101.40,473.20 L101.90,473.20 L102.40,473.21 L102.90,473.21 L103.40,473.22 L103.90,473.22 L104.40,473.22 L104.90,473.23 L105.40,473.23 L105.90,473.24 L106.40,473.24 L106.90,473.25 L107.40,473.25 L107.90,473.25 L108.40,473.26 L108.90,473.26 L109.40,473.27 L109.90,473.27 L110.40,473.28 L110.90,473.28 L111.40,473.29 L111.90,473.30 L112.40,473.30 L112.90,473.31 L113.40,473.31 L113.90,473.32 L114.40,473.32 L114.90,473.33 L115.40,473.34 L115.90,473.34 L116.40,473.35 L116.90,473.36 L117.40,473.36 L117.90,473.37 L118.40,473.38 L118.90,473.38 L119.40,473.39 L119.90,473.40 L120.40,473.40 L120.90,473.41 L121.40,473.42 L121.90,473.43 L122.40,473.44 L122.90,473.44 L123.40,473.45 L123.90,473.46 L124.40,473.47 L124.90,473.48 L125.40,473.49 L125.90,473.50 L126.40,473.51 L126.90,473.52 L127.40,473.53 L127.90,473.54 L128.40,473.55 L128.90,473.56 L129.40,473.57 L129.90,473.58 L130.40,473.59 L130.90,473.60 L131.40,473.61 L131.90,473.62 L132.40,473.63 L132.90,473.65 L133.40,473.66 L133.90,473.67 L134.40,473.68 L134.90,473.70 L135.40,473.71 L135.90,473.72 L136.40,473.74 L136.90,473.75 L137.40,473.76 L137.90,473.78 L138.40,473.79 L138.90,473.81 L139.40,473.82 L139.90,473.84 L140.40,473.85 L140.90,473.87 L141.40,473.89 L141.90,473.90 L142.40,473.92 L142.90,473.94 L143.40,473.96 L143.90,473.97 L144.40,473.99 L144.90,474.01 L145.40,474.03 L145.90,474.05 L146.40,474.07 L146.90,474.09 L147.40,474.11 L147.90,474.13 L148.40,474.15 L148.90,474.17 L149.40,474.19 L149.90,474.22 L150.40,474.24 L150.90,474.26 L151.40,474.29 L151.90,474.31 L152.40,474.34 L152.90,474.36 L153.40,474.39 L153.90,474.42 L154.40,474.45 L154.90,474.47 L155.40,474.50 L155.90,474.53 L156.40,474.56 L156.90,474.59 L157.40,474.62 L157.90,474.65 L158.40,474.68 L158.90,474.71 L159.40,474.74 L159.90,474.76 L160.40,474.79 L160.90,474.81 L161.40,474.84 L161.90,474.86 L162.40,474.88 L162.90,474.90 L163.40,474.92 L163.90,474.94 L164.40,474.96 L164.90,474.98 L165.40,475.01 L165.90,475.03 L166.40,475.05 L166.90,475.08 L167.40,475.10 L167.90,475.13 L168.40,475.16 L168.90,475.19 L169.40,475.23 L169.90,475.26 L170.40,475.30 L170.90,475.35 L171.40,475.39 L171.90,475.44 L172.40,475.49 L172.90,475.54 L173.40,475.59 L173.90,475.65 L174.40,475.70 L174.90,475.76 L175.40,475.82 L175.90,475.88 L176.40,475.95 L176.90,476.01 L177.40,476.08 L177.90,476.15 L178.40,476.22 L178.90,476.29 L179.40,476.36 L179.90,476.43 L180.40,476.51 L180.90,476.58 L181.40,476.66 L181.90,476.73 L182.40,476.81 L182.90,476.89 L183.40,476.96 L183.90,477.04 L184.40,477.12 L184.90,477.20 L185.40,477.27 L185.90,477.35 L186.40,477.43 L186.90,477.51 L187.40,477.58 L187.90,477.66 L188.40,477.74 L188.90,477.82 L189.40,477.91 L189.90,477.99 L190.40,478.08 L190.90,478.17 L191.40,478.26 L191.90,478.35 L192.40,478.44 L192.90,478.53 L193.40,478.62 L193.90,478.72 L194.40,478.81 L194.90,478.91 L195.40,479.01 L195.90,479.10 L196.40,479.20 L196.90,479.30 L197.40,479.40 L197.90,479.49 L198.40,479.59 L198.90,479.69 L199.40,479.78 L199.90,479.88 L200.40,479.98 L200.90,480.07 L201.40,480.17 L201.90,480.26 L202.40,480.36 L202.90,480.45 L203.40,480.55 L203.90,480.64 L204.40,480.74 L204.90,480.84 L205.40,480.94 L205.90,481.04 L206.40,481.15 L206.90,481.25 L207.40,481.36 L207.90,481.48 L208.40,481.59 L208.90,481.71 L209.40,481.84 L209.90,481.96 L210.40,482.09 L210.90,482.22 L211.40,482.36 L211.90,482.49 L212.40,482.64 L212.90,482.78 L213.40,482.92 L213.90,483.07 L214.40,483.22 L214.90,483.37 L215.40,483.53 L215.90,483.69 L216.40,483.86 L216.90,484.03 L217.40,484.20 L217.90,484.37 L218.40,484.55 L218.90,484.72 L219.40,484.90 L219.90,485.08 L220.40,485.26 L220.90,485.45 L221.40,485.63 L221.90,485.82 L222.40,486.00 L222.90,486.19 L223.40,486.38 L223.90,486.57 L224.40,486.76 L224.90,486.96 L225.40,487.16 L225.90,487.35 L226.40,487.55 L226.90,487.75 L227.40,487.95 L227.90,488.16 L228.40,488.36 L228.90,488.57 L229.40,488.77 L229.90,488.98 L230.40,489.19 L230.90,489.40 L231.40,489.61 L231.90,489.83 L232.40,490.04 L232.90,490.26 L233.40,490.47 L233.90,490.69 L234.40,490.92 L234.90,491.14 L235.40,491.37 L235.90,491.59 L236.40,491.82 L236.90,492.06 L237.40,492.29 L237.90,492.52 L238.40,492.76 L238.90,493.00 L239.40,493.24 L239.90,493.48 L240.40,493.72 L240.90,493.96 L241.40,494.20 L241.90,494.44 L242.40,494.69 L242.90,494.93 L243.40,495.17 L243.90,495.42 L244.40,495.66 L244.90,495.91 L245.40,496.15 L245.90,496.40 L246.40,496.64 L246.90,496.89 L247.40,497.14 L247.90,497.39 L248.40,497.64 L248.90,497.89 L249.40,498.14 L249.90,498.39 L250.40,498.64 L250.90,498.90 L251.40,499.15 L251.90,499.41 L252.40,499.66 L252.90,499.92 L253.40,500.17 L253.90,500.43 L254.40,500.68 L254.90,500.94 L255.40,501.19 L255.90,501.44 L256.40,501.70 L256.90,501.95 L257.40,502.20 L257.90,502.45 L258.40,502.70 L258.90,502.95 L259.40,503.21 L259.90,503.46 L260.40,503.72 L260.90,503.97 L261.40,504.23 L261.90,504.48 L262.40,504.74 L262.90,505.00 L263.40,505.25 L263.90,505.51 L264.40,505.76 L264.90,506.01 L265.40,506.27 L265.90,506.52 L266.40,506.76 L266.90,507.01 L267.40,507.25 L267.90,507.49 L268.40,507.73 L268.90,507.97 L269.40,508.20 L269.90,508.43 L270.40,508.66 L270.90,508.88 L271.40,509.10 L271.90,509.32 L272.40,509.54 L272.90,509.76 L273.40,509.97 L273.90,510.19 L274.40,510.40 L274.90,510.61 L275.40,510.82 L275.90,511.03 L276.40,511.24 L276.90,511.44 L277.40,511.65 L277.90,511.85 L278.40,512.05 L278.90,512.24 L279.40,512.44 L279.90,512.63 L280.40,512.81 L280.90,513.00 L281.40,513.18 L281.90,513.36 L282.40,513.54 L282.90,513.72 L283.40,513.89 L283.90,514.06 L284.40,514.23 L284.90,514.40 L285.40,514.56 L285.90,514.73 L286.40,514.89 L286.90,515.06 L287.40,515.22 L287.90,515.38 L288.40,515.53 L288.90,515.69 L289.40,515.84 L289.90,515.99 L290.40,516.14 L290.90,516.29 L291.40,516.43 L291.90,516.57 L292.40,516.71 L292.90,516.85 L293.40,516.98 L293.90,517.11 L294.40,517.23 L294.90,517.36 L295.40,517.48 L295.90,517.59 L296.40,517.71 L296.90,517.82 L297.40,517.93 L297.90,518.03 L298.40,518.14 L298.90,518.24 L299.40,518.34 L299.90,518.44 L300.40,518.54 L300.90,518.63 L301.40,518.73 L301.90,518.82 L302.40,518.91 L302.90,519.01 L303.40,519.10 L303.90,519.19 L304.40,519.27 L304.90,519.36 L305.40,519.45 L305.90,519.54 L306.40,519.62 L306.90,519.71 L307.40,519.80 L307.90,519.88 L308.40,519.97 L308.90,520.06 L309.40,520.14 L309.90,520.23 L310.40,520.31 L310.90,520.40 L311.40,520.48 L311.90,520.57 L312.40,520.65 L312.90,520.73 L313.40,520.82 L313.90,520.90 L314.40,520.98 L314.90,521.06 L315.40,521.14 L315.90,521.21 L316.40,521.29 L316.90,521.36 L317.40,521.44 L317.90,521.51 L318.40,521.58 L318.90,521.65 L319.40,521.72 L319.90,521.79 L320.40,521.85 L320.90,521.92 L321.40,521.98 L321.90,522.05 L322.40,522.11 L322.90,522.17 L323.40,522.24 L323.90,522.30 L324.40,522.36 L324.90,522.42 L325.40,522.48 L325.90,522.54 L326.40,522.59 L326.90,522.65 L327.40,522.71 L327.90,522.76 L328.40,522.81 L328.90,522.87 L329.40,522.92 L329.90,522.97 L330.40,523.01 L330.90,523.06 L331.40,523.11 L331.90,523.15 L332.40,523.19 L332.90,523.23 L333.40,523.27 L333.90,523.31 L334.40,523.35 L334.90,523.39 L335.40,523.43 L335.90,523.47 L336.40,523.51 L336.90,523.54 L337.40,523.58 L337.90,523.61 L338.40,523.65 L338.90,523.69 L339.40,523.72 L339.90,523.75 L340.40,523.79 L340.90,523.82 L341.40,523.85 L341.90,523.88 L342.40,523.91 L342.90,523.94 L343.40,523.97 L343.90,524.00 L344.40,524.03 L344.90,524.06 L345.40,524.09 L345.90,524.11 L346.40,524.14 L346.90,524.16 L347.40,524.19 L347.90,524.21 L348.40,524.23 L348.90,524.25 L349.40,524.28 L349.90,524.30 L350.40,524.32 L350.90,524.34 L351.40,524.36 L351.90,524.37 L352.40,524.39 L352.90,524.41 L353.40,524.43 L353.90,524.45 L354.40,524.47 L354.90,524.49 L355.40,524.50 L355.90,524.52 L356.40,524.54 L356.90,524.56 L357.40,524.57 L357.90,524.59 L358.40,524.60 L358.90,524.62 L359.40,524.63 L359.90,524.65 L360.40,524.66 L360.90,524.68 L361.40,524.69 L361.90,524.70 L362.40,524.71 L362.90,524.73 L363.40,524.74 L363.90,524.75 L364.40,524.76 L364.90,524.77 L365.40,524.77 L365.90,524.78 L366.40,524.79 L366.90,524.80 L367.10,524.80" stroke="#0000ff"/>
<path d="M7.91,434.56 L8.41,434.57 L8.91,434.57 L9.41,434.57 L9.91,434.57 L10.41,434.57 L10.91,434.57 L11.41,434.57 L11.91,434.57 L12.41,434.57 L12.91,434.57 L13.41,434.57 L13.91,434.58 L14.41,434.58 L14.91,434.58 L15.41,434.58 L15.91,434.58 L16.41,434.58 L16.91,434.58 L17.41,434.58 L17.91,434.58 L18.41,434.59 L18.91,434.59 L19.41,434.59 L19.91,434.59 L20.41,434.59 L20.91,434.59 L21.41,434.59 L21.91,434.59 L22.41,434.60 L22.91,434.60 L23.41,434.60 L23.91,434.60 L24.41,434.60 L24.91,434.60 L25.41,434.60 L25.91,434.61 L26.41,434.61 L26.91,434.61 L27.41,434.61 L27.91,434.61 L28.41,434.61 L28.91,434.62 L29.41,434.62 L29.91,434.62 L30.41,434.62 L30.91,434.62 L31.41,434.63 L31.91,434.63 L32.41,434.63 L32.91,434.63 L33.41,434.63 L33.91,434.64 L34.41,434.64 L34.91,434.64 L35.41,434.64 L35.91,434.65 L36.41,434.65 L36.91,434.65 L37.41,434.65 L37.91,434.66 L38.41,434.66 L38.91,434.66 L39.41,434.66 L39.91,434.67 L40.41,434.67 L40.91,434.67 L41.41,434.68 L41.91,434.68 L42.41,434.68 L42.91,434.68 L43.41,434.69 L43.91,434.69 L44.41,434.69 L44.91,434.70 L45.41,434.70 L45.91,434.70 L46.41,434.71 L46.91,434.71 L47.41,434.71 L47.91,434.72 L48.41,434.72 L48.91,434.73 L49.41,434.73 L49.91,434.73 L50.41,434.74 L50.91,434.74 L51.41,434.75 L51.91,434.75 L52.41,434.76 L52.91,434.76 L53.41,434.76 L53.91,434.77 L54.41,434.77 L54.91,434.78 L55.41,434.78 L55.91,434.79 L56.41,434.79 L56.91,434.80 L57.41,434.81 L57.91,434.81 L58.41,434.82 L58.91,434.82 L59.41,434.83 L59.91,434.83 L60.41,434.84 L60.91,434.85 L61.41,434.85 L61.91,434.86 L62.41,434.86 L62.91,434.87 L63.41,434.88 L63.91,434.89 L64.41,434.89 L64.91,434.90 L65.41,434.91 L65.91,434.91 L66.41,434.92 L66.91,434.93 L67.41,434.94 L67.91,434.95 L68.41,434.95 L68.91,434.96 L69.41,434.97 L69.91,434.98 L70.41,434.99 L70.91,435.00 L71.41,435.01 L71.91,435.02 L72.41,435.02 L72.91,435.03 L73.41,435.04 L73.91,435.05 L74.41,435.06 L74.91,435.08 L75.41,435.09 L75.91,435.10 L76.41,435.11 L76.91,435.12 L77.41,435.13 L77.91,435.14 L78.41,435.15 L78.91,435.17 L79.41,435.18 L79.91,435.19 L80.41,435.20 L80.91,435.22 L81.41,435.23 L81.91,435.24 L82.41,435.26 L82.91,435.27 L83.41,435.29 L83.91,435.30 L84.41,435.32 L84.91,435.33 L85.41,435.35 L85.91,435.36 L86.41,435.38 L86.91,435.40 L87.41,435.41 L87.91,435.43 L88.41,435.45 L88.91,435.47 L89.41,435.48 L89.91,435.50 L90.41,435.52 L90.91,435.54 L91.41,435.56 L91.91,435.58 L92.41,435.60 L92.91,435.62 L93.41,435.64 L93.91,435.66 L94.41,435.69 L94.91,435.71 L95.41,435.73 L95.91,435.75 L96.41,435.78 L96.91,435.80 L97.41,435.83 L97.91,435.85 L98.41,435.88 L98.91,435.90 L99.41,435.93 L99.91,435.96 L100.41,435.98 L100.91,436.01 L101.41,436.04 L101.91,436.07 L102.41,436.10 L102.91,436.13 L103.41,436.16 L103.91,436.19 L104.41,436.22 L104.91,436.25 L105.41,436.29 L105.91,436.32 L106.41,436.35 L106.91,436.39 L107.41,436.42 L107.91,436.46 L108.41,436.50 L108.91,436.54 L109.41,436.57 L109.91,436.61 L110.41,436.65 L110.91,436.69 L111.41,436.73 L111.91,436.78 L112.41,436.82 L112.91,436.86 L113.41,436.91 L113.91,436.95 L114.41,437.00 L114.91,437.04 L115.41,437.09 L115.91,437.14 L116.41,437.19 L116.91,437.24 L117.41,437.29 L117.91,437.34 L118.41,437.39 L118.91,437.45 L119.41,437.50 L119.91,437.56 L120.41,437.62 L120.91,437.67 L121.41,437.73 L121.91,437.79 L122.41,437.86 L122.91,437.92 L123.41,437.98 L123.91,438.05 L124.41,438.11 L124.91,438.18 L125.41,438.25 L125.91,438.32 L126.41,438.39 L126.91,438.46 L127.41,438.53 L127.91,438.61 L128.41,438.68 L128.91,438.76 L129.41,438.84 L129.91,438.92 L130.41,439.00 L130.91,439.08 L131.41,439.16 L131.91,439.25 L132.41,439.34 L132.91,439.42 L133.41,439.51 L133.91,439.61 L134.41,439.70 L134.91,439.79 L135.41,439.89 L135.91,439.99 L136.41,440.09 L136.91,440.19 L137.41,440.29 L137.91,440.40 L138.41,440.50 L138.91,440.61 L139.41,440.72 L139.91,440.83 L140.41,440.95 L140.91,441.06 L141.41,441.18 L141.91,441.30 L142.41,441.42 L142.91,441.55 L143.41,441.67 L143.91,441.80 L144.41,441.93 L144.91,442.06 L145.41,442.20 L145.91,442.33 L146.41,442.47 L146.91,442.61 L147.41,442.75 L147.91,442.90 L148.41,443.05 L148.91,443.20 L149.41,443.35 L149.91,443.50 L150.41,443.66 L150.91,443.82 L151.41,443.98 L151.91,444.14 L152.41,444.31 L152.91,444.48 L153.41,444.65 L153.91,444.83 L154.41,445.00 L154.91,445.18 L155.41,445.37 L155.91,445.55 L156.41,445.74 L156.91,445.93 L157.41,446.12 L157.91,446.32 L158.41,446.52 L158.91,446.72 L159.41,446.92 L159.91,447.13 L160.41,447.34 L160.91,447.55 L161.41,447.77 L161.91,447.99 L162.41,448.21 L162.91,448.44 L163.41,448.66 L163.91,448.90 L164.41,449.13 L164.91,449.37 L165.41,449.61 L165.91,449.85 L166.41,450.10 L166.91,450.35 L167.41,450.60 L167.91,450.86 L168.41,451.12 L168.91,451.38 L169.41,451.64 L169.91,451.91 L170.41,452.19 L170.91,452.46 L171.41,452.74 L171.91,453.02 L172.41,453.31 L172.91,453.60 L173.41,453.89 L173.91,454.18 L174.41,454.48 L174.91,454.78 L175.41,455.08 L175.91,455.39 L176.41,455.70 L176.91,456.02 L177.41,456.33 L177.91,456.66 L178.41,456.98 L178.91,457.31 L179.41,457.64 L179.91,457.97 L180.41,458.31 L180.91,458.64 L181.41,458.99 L181.91,459.33 L182.41,459.68 L182.91,460.03 L183.41,460.39 L183.91,460.74 L184.41,461.11 L184.91,461.47 L185.41,461.83 L185.91,462.20 L186.41,462.58 L186.91,462.95 L187.41,463.33 L187.91,463.71 L188.41,464.09 L188.91,464.47 L189.41,464.86 L189.91,465.25 L190.41,465.64 L190.91,466.04 L191.41,466.44 L191.91,466.84 L192.41,467.24 L192.91,467.64 L193.41,468.05 L193.91,468.46 L194.41,468.87 L194.91,469.28 L195.41,469.69 L195.91,470.11 L196.41,470.53 L196.91,470.95 L197.41,471.37 L197.91,471.79 L198.41,472.21 L198.91,472.64 L199.41,473.06 L199.91,473.49 L200.41,473.92 L200.91,474.35 L201.41,474.78 L201.91,475.21 L202.41,475.65 L202.91,476.08 L203.41,476.52 L203.91,476.95 L204.41,477.39 L204.91,477.82 L205.41,478.26 L205.91,478.70 L206.41,479.13 L206.91,479.57 L207.41,480.01 L207.91,480.45 L208.41,480.88 L208.91,481.32 L209.41,481.76 L209.91,482.19 L210.41,482.63 L210.91,483.06 L211.41,483.50 L211.91,483.93 L212.41,484.37 L212.91,484.80 L213.41,485.23 L213.91,485.66 L214.41,486.09 L214.91,486.52 L215.41,486.95 L215.91,487.38 L216.41,487.80 L216.91,488.23 L217.41,488.65 L217.91,489.07 L218.41,489.49 L218.91,489.91 L219.41,490.32 L219.91,490.74 L220.41,491.15 L220.91,491.56 L221.41,491.97 L221.91,492.37 L222.41,492.78 L222.91,493.18 L223.41,493.58 L223.91,493.98 L224.41,494.37 L224.91,494.76 L225.41,495.15 L225.91,495.54 L226.41,495.93 L226.91,496.31 L227.41,496.69 L227.91,497.07 L228.41,497.44 L228.91,497.81 L229.41,498.18 L229.91,498.55 L230.41,498.91 L230.91,499.27 L231.41,499.63 L231.91,499.98 L232.41,500.34 L232.91,500.68 L233.41,501.03 L233.91,501.37 L234.41,501.71 L234.91,502.05 L235.41,502.38 L235.91,502.71 L236.41,503.04 L236.91,503.36 L237.41,503.68 L237.91,504.00 L238.41,504.31 L238.91,504.62 L239.41,504.93 L239.91,505.24 L240.41,505.54 L240.91,505.84 L241.41,506.13 L241.91,506.42 L242.41,506.71 L242.91,507.00 L243.41,507.28 L243.91,507.56 L244.41,507.83 L244.91,508.10 L245.41,508.37 L245.91,508.64 L246.41,508.90 L246.91,509.16 L247.41,509.42 L247.91,509.67 L248.41,509.92 L248.91,510.17 L249.41,510.41 L249.91,510.65 L250.41,510.89 L250.91,511.12 L251.41,511.35 L251.91,511.58 L252.41,511.81 L252.91,512.03 L253.41,512.25 L253.91,512.46 L254.41,512.68 L254.91,512.89 L255.41,513.10 L255.91,513.30 L256.41,513.50 L256.91,513.70 L257.41,513.90 L257.91,514.09 L258.41,514.28 L258.91,514.47 L259.41,514.65 L259.91,514.84 L260.41,515.02 L260.91,515.19 L261.41,515.37 L261.91,515.54 L262.41,515.71 L262.91,515.88 L263.41,516.04 L263.91,516.20 L264.41,516.36 L264.91,516.52 L265.41,516.67 L265.91,516.82 L266.41,516.97 L266.91,517.12 L267.41,517.27 L267.91,517.41 L268.41,517.55 L268.91,517.69 L269.41,517.82 L269.91,517.96 L270.41,518.09 L270.91,518.22 L271.41,518.35 L271.91,518.47 L272.41,518.60 L272.91,518.72 L273.41,518.84 L273.91,518.96 L274.41,519.07 L274.91,519.19 L275.41,519.30 L275.91,519.41 L276.41,519.52 L276.91,519.62 L277.41,519.73 L277.91,519.83 L278.41,519.93 L278.91,520.03 L279.41,520.13 L279.91,520.23 L280.41,520.32 L280.91,520.41 L281.41,520.51 L281.91,520.60 L282.41,520.68 L282.91,520.77 L283.41,520.86 L283.91,520.94 L284.41,521.02 L284.91,521.10 L285.41,521.18 L285.91,521.26 L286.41,521.34 L286.91,521.42 L287.41,521.49 L287.91,521.56 L288.41,521.63 L288.91,521.71 L289.41,521.77 L289.91,521.84 L290.41,521.91 L290.91,521.98 L291.41,522.04 L291.91,522.10 L292.41,522.17 L292.91,522.23 L293.41,522.29 L293.91,522.35 L294.41,522.40 L294.91,522.46 L295.41,522.52 L295.91,522.57 L296.41,522.63 L296.91,522.68 L297.41,522.73 L297.91,522.78 L298.41,522.83 L298.91,522.88 L299.41,522.93 L299.91,522.98 L300.41,523.02 L300.91,523.07 L301.41,523.12 L301.91,523.16 L302.41,523.20 L302.91,523.25 L303.41,523.29 L303.91,523.33 L304.41,523.37 L304.91,523.41 L305.41,523.45 L305.91,523.49 L306.41,523.52 L306.91,523.56 L307.41,523.60 L307.91,523.63 L308.41,523.67 L308.91,523.70 L309.41,523.74 L309.91,523.77 L310.41,523.80 L310.91,523.83 L311.41,523.86 L311.91,523.89 L312.41,523.92 L312.91,523.95 L313.41,523.98 L313.91,524.01 L314.41,524.04 L314.91,524.07 L315.41,524.09 L315.91,524.12 L316.41,524.15 L316.91,524.17 L317.41,524.20 L317.91,524.22 L318.41,524.24 L318.91,524.27 L319.41,524.29 L319.91,524.31 L320.41,524.34 L320.91,524.36 L321.41,524.38 L321.91,524.40 L322.41,524.42 L322.91,524.44 L323.41,524.46 L323.91,524.48 L324.41,524.50 L324.91,524.52 L325.41,524.54 L325.91,524.56 L326.41,524.57 L326.91,524.59 L327.41,524.61 L327.91,524.62 L328.41,524.64 L328.91,524.66 L329.41,524.67 L329.91,524.69 L330.41,524.70 L330.91,524.72 L331.41,524.73 L331.91,524.75 L332.41,524.76 L332.91,524.78 L333.41,524.79 L333.91,524.80 L334.41,524.82 L334.91,524.83 L335.41,524.84 L335.91,524.86 L336.41,524.87 L336.91,524.88 L337.41,524.89 L337.91,524.90 L338.41,524.91 L338.91,524.92 L339.41,524.94 L339.91,524.95 L340.41,524.96 L340.91,524.97 L341.41,524.98 L341.91,524.99 L342.41,525.00 L342.91,525.01 L343.41,525.02 L343.91,525.03 L344.41,525.03 L344.91,525.04 L345.41,525.05 L345.91,525.06 L346.41,525.07 L346.91,525.08 L347.41,525.08 L347.91,525.09 L348.41,525.10 L348.91,525.11 L349.41,525.12 L349.91,525.12 L350.41,525.13 L350.91,525.14 L351.41,525.14 L351.91,525.15 L352.41,525.16 L352.91,525.16 L353.41,525.17 L353.91,525.18 L354.41,525.18 L354.91,525.19 L355.41,525.19 L355.91,525.20 L356.41,525.21 L356.91,525.21 L357.41,525.22 L357.91,525.22 L358.41,525.23 L358.91,525.23 L359.41,525.24 L359.91,525.24 L360.41,525.25 L360.91,525.25 L361.41,525.26 L361.91,525.26 L362.41,525.27 L362.91,525.27 L363.41,525.28 L363.91,525.28 L364.41,525.28 L364.91,525.29 L365.41,525.29 L365.91,525.30 L366.41,525.30 L367.12,525.30" stroke="#ff0000" stroke-dasharray="10.3 3.0" stroke-dashoffset="1.44"/>
<path d="M7.91,300.71 L8.41,300.74 L8.91,300.77 L9.41,300.80 L9.91,300.83 L10.41,300.86 L10.91,300.90 L11.41,300.93 L11.91,300.97 L12.41,301.00 L12.91,301.04 L13.41,301.07 L13.91,301.11 L14.41,301.15 L14.91,301.19 L15.41,301.23 L15.91,301.27 L16.41,301.31 L16.91,301.35 L17.41,301.39 L17.91,301.44 L18.41,301.48 L18.91,301.53 L19.41,301.57 L19.91,301.62 L20.41,301.67 L20.91,301.71 L21.41,301.76 L21.91,301.81 L22.41,301.87 L22.91,301.92 L23.41,301.97 L23.91,302.03 L24.41,302.08 L24.91,302.14 L25.41,302.20 L25.91,302.25 L26.41,302.31 L26.91,302.37 L27.41,302.44 L27.91,302.50 L28.41,302.56 L28.91,302.63 L29.41,302.70 L29.91,302.76 L30.41,302.83 L30.91,302.90 L31.41,302.98 L31.91,303.05 L32.41,303.12 L32.91,303.20 L33.41,303.28 L33.91,303.36 L34.41,303.44 L34.91,303.52 L35.41,303.60 L35.91,303.69 L36.41,303.77 L36.91,303.86 L37.41,303.95 L37.91,304.04 L38.41,304.14 L38.91,304.23 L39.41,304.33 L39.91,304.43 L40.41,304.53 L40.91,304.63 L41.41,304.73 L41.91,304.84 L42.41,304.95 L42.91,305.06 L43.41,305.17 L43.91,305.28 L44.41,305.40 L44.91,305.52 L45.41,305.64 L45.91,305.76 L46.41,305.89 L46.91,306.01 L47.41,306.14 L47.91,306.27 L48.41,306.41 L48.91,306.55 L49.41,306.68 L49.91,306.83 L50.41,306.97 L50.91,307.12 L51.41,307.27 L51.91,307.42 L52.41,307.57 L52.91,307.73 L53.41,307.89 L53.91,308.05 L54.41,308.22 L54.91,308.39 L55.41,308.56 L55.91,308.74 L56.41,308.92 L56.91,309.10 L57.41,309.28 L57.91,309.47 L58.41,309.66 L58.91,309.86 L59.41,310.05 L59.91,310.26 L60.41,310.46 L60.91,310.67 L61.41,310.88 L61.91,311.10 L62.41,311.32 L62.91,311.54 L63.41,311.77 L63.91,312.00 L64.41,312.24 L64.91,312.48 L65.41,312.72 L65.91,312.97 L66.41,313.22 L66.91,313.47 L67.41,313.74 L67.91,314.00 L68.41,314.27 L68.91,314.54 L69.41,314.82 L69.91,315.11 L70.41,315.39 L70.91,315.69 L71.41,315.98 L71.91,316.29 L72.41,316.59 L72.91,316.91 L73.41,317.22 L73.91,317.55 L74.41,317.87 L74.91,318.21 L75.41,318.54 L75.91,318.89 L76.41,319.24 L76.91,319.59 L77.41,319.95 L77.91,320.32 L78.41,320.69 L78.91,321.07 L79.41,321.45 L79.91,321.84 L80.41,322.24 L80.91,322.64 L81.41,323.05 L81.91,323.47 L82.41,323.89 L82.91,324.31 L83.41,324.75 L83.91,325.19 L84.41,325.63 L84.91,326.09 L85.41,326.55 L85.91,327.01 L86.41,327.49 L86.91,327.97 L87.41,328.45 L87.91,328.95 L88.41,329.45 L88.91,329.96 L89.41,330.47 L89.91,331.00 L90.41,331.53 L90.91,332.07 L91.41,332.61 L91.91,333.16 L92.41,333.72 L92.91,334.29 L93.41,334.86 L93.91,335.45 L94.41,336.04 L94.91,336.63 L95.41,337.24 L95.91,337.85 L96.41,338.47 L96.91,339.10 L97.41,339.74 L97.91,340.39 L98.41,341.04 L98.91,341.70 L99.41,342.37 L99.91,343.04 L100.41,343.73 L100.91,344.42 L101.41,345.12 L101.91,345.83 L102.41,346.55 L102.91,347.27 L103.41,348.00 L103.91,348.75 L104.41,349.49 L104.91,350.25 L105.41,351.02 L105.91,351.79 L106.41,352.57 L106.91,353.36 L107.41,354.16 L107.91,354.96 L108.41,355.77 L108.91,356.60 L109.41,357.42 L109.91,358.26 L110.41,359.10 L110.91,359.96 L111.41,360.81 L111.91,361.68 L112.41,362.56 L112.91,363.44 L113.41,364.33 L113.91,365.22 L114.41,366.13 L114.91,367.04 L115.41,367.95 L115.91,368.88 L116.41,369.81 L116.91,370.75 L117.41,371.69 L117.91,372.64 L118.41,373.60 L118.91,374.57 L119.41,375.54 L119.91,376.51 L120.41,377.50 L120.91,378.48 L121.41,379.48 L121.91,380.48 L122.41,381.48 L122.91,382.49 L123.41,383.51 L123.91,384.53 L124.41,385.55 L124.91,386.58 L125.41,387.62 L125.91,388.65 L126.41,389.70 L126.91,390.74 L127.41,391.80 L127.91,392.85 L128.41,393.91 L128.91,394.97 L129.41,396.03 L129.91,397.10 L130.41,398.17 L130.91,399.24 L131.41,400.32 L131.91,401.39 L132.41,402.47 L132.91,403.55 L133.41,404.64 L133.91,405.72 L134.41,406.81 L134.91,407.89 L135.41,408.98 L135.91,410.07 L136.41,411.16 L136.91,412.24 L137.41,413.33 L137.91,414.42 L138.41,415.51 L138.91,416.59 L139.41,417.68 L139.91,418.77 L140.41,419.85 L140.91,420.93 L141.41,422.01 L141.91,423.09 L142.41,424.17 L142.91,425.25 L143.41,426.32 L143.91,427.39 L144.41,428.46 L144.91,429.52 L145.41,430.58 L145.91,431.64 L146.41,432.70 L146.91,433.75 L147.41,434.79 L147.91,435.84 L148.41,436.88 L148.91,437.91 L149.41,438.94 L149.91,439.97 L150.41,440.99 L150.91,442.01 L151.41,443.02 L151.91,444.02 L152.41,445.02 L152.91,446.02 L153.41,447.01 L153.91,447.99 L154.41,448.97 L154.91,449.94 L155.41,450.90 L155.91,451.86 L156.41,452.81 L156.91,453.76 L157.41,454.70 L157.91,455.63 L158.41,456.56 L158.91,457.47 L159.41,458.39 L159.91,459.29 L160.41,460.19 L160.91,461.08 L161.41,461.96 L161.91,462.83 L162.41,463.70 L162.91,464.56 L163.41,465.42 L163.91,466.26 L164.41,467.10 L164.91,467.93 L165.41,468.75 L165.91,469.56 L166.41,470.37 L166.91,471.17 L167.41,471.96 L167.91,472.74 L168.41,473.51 L168.91,474.28 L169.41,475.04 L169.91,475.79 L170.41,476.53 L170.91,477.26 L171.41,477.99 L171.91,478.71 L172.41,479.42 L172.91,480.12 L173.41,480.81 L173.91,481.50 L174.41,482.18 L174.91,482.85 L175.41,483.51 L175.91,484.16 L176.41,484.81 L176.91,485.44 L177.41,486.07 L177.91,486.70 L178.41,487.31 L178.91,487.92 L179.41,488.52 L179.91,489.11 L180.41,489.69 L180.91,490.27 L181.41,490.84 L181.91,491.40 L182.41,491.95 L182.91,492.50 L183.41,493.03 L183.91,493.57 L184.41,494.09 L184.91,494.61 L185.41,495.12 L185.91,495.62 L186.41,496.11 L186.91,496.60 L187.41,497.08 L187.91,497.56 L188.41,498.02 L188.91,498.49 L189.41,498.94 L189.91,499.39 L190.41,499.83 L190.91,500.26 L191.41,500.69 L191.91,501.11 L192.41,501.53 L192.91,501.94 L193.41,502.34 L193.91,502.74 L194.41,503.13 L194.91,503.51 L195.41,503.89 L195.91,504.26 L196.41,504.63 L196.91,504.99 L197.41,505.35 L197.91,505.70 L198.41,506.04 L198.91,506.38 L199.41,506.72 L199.91,507.04 L200.41,507.37 L200.91,507.69 L201.41,508.00 L201.91,508.31 L202.41,508.61 L202.91,508.91 L203.41,509.20 L203.91,509.49 L204.41,509.77 L204.91,510.05 L205.41,510.33 L205.91,510.60 L206.41,510.86 L206.91,511.12 L207.41,511.38 L207.91,511.63 L208.41,511.88 L208.91,512.13 L209.41,512.37 L209.91,512.60 L210.41,512.83 L210.91,513.06 L211.41,513.29 L211.91,513.51 L212.41,513.72 L212.91,513.94 L213.41,514.14 L213.91,514.35 L214.41,514.55 L214.91,514.75 L215.41,514.95 L215.91,515.14 L216.41,515.33 L216.91,515.51 L217.41,515.69 L217.91,515.87 L218.41,516.05 L218.91,516.22 L219.41,516.39 L219.91,516.56 L220.41,516.72 L220.91,516.88 L221.41,517.04 L221.91,517.20 L222.41,517.35 L222.91,517.50 L223.41,517.64 L223.91,517.79 L224.41,517.93 L224.91,518.07 L225.41,518.21 L225.91,518.34 L226.41,518.47 L226.91,518.60 L227.41,518.73 L227.91,518.86 L228.41,518.98 L228.91,519.10 L229.41,519.22 L229.91,519.33 L230.41,519.45 L230.91,519.56 L231.41,519.67 L231.91,519.78 L232.41,519.89 L232.91,519.99 L233.41,520.09 L233.91,520.19 L234.41,520.29 L234.91,520.39 L235.41,520.48 L235.91,520.58 L236.41,520.67 L236.91,520.76 L237.41,520.85 L237.91,520.93 L238.41,521.02 L238.91,521.10 L239.41,521.19 L239.91,521.27 L240.41,521.35 L240.91,521.42 L241.41,521.50 L241.91,521.57 L242.41,521.65 L242.91,521.72 L243.41,521.79 L243.91,521.86 L244.41,521.93 L244.91,522.00 L245.41,522.06 L245.91,522.13 L246.41,522.19 L246.91,522.25 L247.41,522.31 L247.91,522.37 L248.41,522.43 L248.91,522.49 L249.41,522.55 L249.91,522.60 L250.41,522.66 L250.91,522.71 L251.41,522.76 L251.91,522.81 L252.41,522.86 L252.91,522.91 L253.41,522.96 L253.91,523.01 L254.41,523.06 L254.91,523.10 L255.41,523.15 L255.91,523.19 L256.41,523.24 L256.91,523.28 L257.41,523.32 L257.91,523.36 L258.41,523.40 L258.91,523.44 L259.41,523.48 L259.91,523.52 L260.41,523.56 L260.91,523.59 L261.41,523.63 L261.91,523.66 L262.41,523.70 L262.91,523.73 L263.41,523.77 L263.91,523.80 L264.41,523.83 L264.91,523.86 L265.41,523.89 L265.91,523.92 L266.41,523.95 L266.91,523.98 L267.41,524.01 L267.91,524.04 L268.41,524.07 L268.91,524.09 L269.41,524.12 L269.91,524.15 L270.41,524.17 L270.91,524.20 L271.41,524.22 L271.91,524.25 L272.41,524.27 L272.91,524.29 L273.41,524.32 L273.91,524.34 L274.41,524.36 L274.91,524.38 L275.41,524.40 L275.91,524.42 L276.41,524.45 L276.91,524.47 L277.41,524.48 L277.91,524.50 L278.41,524.52 L278.91,524.54 L279.41,524.56 L279.91,524.58 L280.41,524.59 L280.91,524.61 L281.41,524.63 L281.91,524.65 L282.41,524.66 L282.91,524.68 L283.41,524.69 L283.91,524.71 L284.41,524.72 L284.91,524.74 L285.41,524.75 L285.91,524.77 L286.41,524.78 L286.91,524.79 L287.41,524.81 L287.91,524.82 L288.41,524.83 L288.91,524.85 L289.41,524.86 L289.91,524.87 L290.41,524.88 L290.91,524.89 L291.41,524.91 L291.91,524.92 L292.41,524.93 L292.91,524.94 L293.41,524.95 L293.91,524.96 L294.41,524.97 L294.91,524.98 L295.41,524.99 L295.91,525.00 L296.41,525.01 L296.91,525.02 L297.41,525.03 L297.91,525.04 L298.41,525.05 L298.91,525.05 L299.41,525.06 L299.91,525.07 L300.41,525.08 L300.91,525.09 L301.41,525.10 L301.91,525.10 L302.41,525.11 L302.91,525.12 L303.41,525.13 L303.91,525.13 L304.41,525.14 L304.91,525.15 L305.41,525.15 L305.91,525.16 L306.41,525.17 L306.91,525.17 L307.41,525.18 L307.91,525.18 L308.41,525.19 L308.91,525.20 L309.41,525.20 L309.91,525.21 L310.41,525.21 L310.91,525.22 L311.41,525.22 L311.91,525.23 L312.41,525.23 L312.91,525.24 L313.41,525.24 L313.91,525.25 L314.41,525.25 L314.91,525.26 L315.41,525.26 L315.91,525.27 L316.41,525.27 L316.91,525.28 L317.41,525.28 L317.91,525.29 L318.41,525.29 L318.91,525.29 L319.41,525.30 L319.91,525.30 L320.41,525.31 L320.91,525.31 L321.41,525.31 L321.91,525.32 L322.41,525.32 L322.91,525.32 L323.41,525.33 L323.91,525.33 L324.41,525.33 L324.91,525.34 L325.41,525.34 L325.91,525.34 L326.41,525.35 L326.91,525.35 L327.41,525.35 L327.91,525.35 L328.41,525.36 L328.91,525.36 L329.41,525.36 L329.91,525.36 L330.41,525.37 L330.91,525.37 L331.41,525.37 L331.91,525.37 L332.41,525.38 L332.91,525.38 L333.41,525.38 L333.91,525.38 L334.41,525.39 L334.91,525.39 L335.41,525.39 L335.91,525.39 L336.41,525.39 L336.91,525.40 L337.41,525.40 L337.91,525.40 L338.41,525.40 L338.91,525.40 L339.41,525.41 L339.91,525.41 L340.41,525.41 L340.91,525.41 L341.41,525.41 L341.91,525.41 L342.41,525.42 L342.91,525.42 L343.41,525.42 L343.91,525.42 L344.41,525.42 L344.91,525.42 L345.41,525.43 L345.91,525.43 L346.41,525.43 L346.91,525.43 L347.41,525.43 L347.91,525.43 L348.41,525.43 L348.91,525.43 L349.41,525.44 L349.91,525.44 L350.41,525.44 L350.91,525.44 L351.41,525.44 L351.91,525.44 L352.41,525.44 L352.91,525.44 L353.41,525.45 L353.91,525.45 L354.41,525.45 L354.91,525.45 L355.41,525.45 L355.91,525.45 L356.41,525.45 L356.91,525.45 L357.41,525.45 L357.91,525.45 L358.41,525.45 L358.91,525.46 L359.41,525.46 L359.91,525.46 L360.41,525.46 L360.91,525.46 L361.41,525.46 L361.91,525.46 L362.41,525.46 L362.91,525.46 L363.41,525.46 L363.91,525.46 L364.41,525.46 L364.91,525.46 L365.41,525.47 L365.91,525.47 L366.41,525.47 L367.12,525.47" stroke="#009a00" stroke-dasharray="5.95 4.63" stroke-dashoffset="0.00"/>
</g>
<g font-family="Liberation Serif, serif" font-size="12" fill="#000" style="filter:grayscale(1)">
<line x1="37.95" y1="263.50" x2="44.25" y2="263.50" stroke="#1a1a1a" stroke-width="0.85"/>
<text transform="translate(45.25,267.20) scale(1,1.050)">10</text>
<line x1="92.95" y1="263.50" x2="99.25" y2="263.50" stroke="#1a1a1a" stroke-width="0.85"/>
<text transform="translate(100.25,267.20) scale(1,1.050)">8</text>
<line x1="144.95" y1="263.50" x2="151.25" y2="263.50" stroke="#1a1a1a" stroke-width="0.85"/>
<text transform="translate(152.25,267.20) scale(1,1.050)">6</text>
<line x1="196.95" y1="263.50" x2="203.25" y2="263.50" stroke="#1a1a1a" stroke-width="0.85"/>
<text transform="translate(204.25,267.20) scale(1,1.050)">4</text>
<line x1="248.95" y1="263.50" x2="255.25" y2="263.50" stroke="#1a1a1a" stroke-width="0.85"/>
<text transform="translate(256.25,267.20) scale(1,1.050)">2</text>
<text transform="translate(307.25,267.20) scale(1,1.050)" text-anchor="middle">0</text>
<text transform="translate(359.25,267.20) scale(1,1.050)" text-anchor="middle">2</text>
<line x1="37.95" y1="536.55" x2="44.25" y2="536.55" stroke="#1a1a1a" stroke-width="0.85"/>
<text transform="translate(45.25,540.25) scale(1,1.050)">10</text>
<line x1="92.95" y1="536.55" x2="99.25" y2="536.55" stroke="#1a1a1a" stroke-width="0.85"/>
<text transform="translate(100.25,540.25) scale(1,1.050)">8</text>
<line x1="144.95" y1="536.55" x2="151.25" y2="536.55" stroke="#1a1a1a" stroke-width="0.85"/>
<text transform="translate(152.25,540.25) scale(1,1.050)">6</text>
<line x1="196.95" y1="536.55" x2="203.25" y2="536.55" stroke="#1a1a1a" stroke-width="0.85"/>
<text transform="translate(204.25,540.25) scale(1,1.050)">4</text>
<line x1="248.95" y1="536.55" x2="255.25" y2="536.55" stroke="#1a1a1a" stroke-width="0.85"/>
<text transform="translate(256.25,540.25) scale(1,1.050)">2</text>
<text transform="translate(307.25,540.25) scale(1,1.050)" text-anchor="middle">0</text>
<text transform="translate(359.25,540.25) scale(1,1.050)" text-anchor="middle">2</text>
<text transform="translate(303.3,204.05) scale(1,1.050)" text-anchor="end">0.5</text>
<text transform="translate(303.3,151.50) scale(1,1.050)" text-anchor="end">1.0</text>
<text transform="translate(303.3,98.95) scale(1,1.050)" text-anchor="end">1.5</text>
<text transform="translate(303.3,46.40) scale(1,1.050)" text-anchor="end">2.0</text>
<text transform="translate(303.3,498.81) scale(1,1.050)" text-anchor="end">10</text>
<text transform="translate(303.3,467.97) scale(1,1.050)" text-anchor="end">20</text>
<text transform="translate(303.3,437.13) scale(1,1.050)" text-anchor="end">30</text>
<text transform="translate(303.3,406.29) scale(1,1.050)" text-anchor="end">40</text>
<text transform="translate(303.3,375.45) scale(1,1.050)" text-anchor="end">50</text>
<text transform="translate(303.3,344.61) scale(1,1.050)" text-anchor="end">60</text>
<text transform="translate(303.3,313.77) scale(1,1.050)" text-anchor="end">70</text>
</g>
<g font-family="Liberation Serif, serif" fill="#000" stroke="#fff" stroke-width="0.35" style="filter:grayscale(1)">
<text transform="translate(304.20,10.60) scale(1.000,1)" font-size="15.80" font-style="italic">λ</text>
<text transform="translate(311.90,10.80) scale(1.000,1)" font-size="17.60" stroke-width="0.45">(</text>
<text transform="translate(317.70,10.60) scale(1.130,1)" font-size="15.80" font-style="italic" stroke-width="0.08">k</text>
<text transform="translate(326.30,10.80) scale(1.000,1)" font-size="17.60" stroke-width="0.45">)</text>
<text transform="translate(298.05,283.60) scale(1.000,1)" font-size="15.80" font-style="italic">λ</text>
<text transform="translate(306.10,283.80) scale(1.000,1)" font-size="17.60" stroke-width="0.45">(</text>
<text transform="translate(312.55,283.60) scale(1.130,1)" font-size="15.80" font-style="italic" stroke-width="0.08">k</text>
<text transform="translate(320.50,283.80) scale(1.000,1)" font-size="17.60" stroke-width="0.45">)</text>
<line x1="327.6" y1="287.6" x2="332.9" y2="272.3" stroke="#222" stroke-width="0.9"/>
<text transform="translate(334.40,283.60) scale(1.130,1)" font-size="15.80" font-style="italic" stroke-width="0.08">k</text>
<text transform="translate(384.70,256.80) scale(1.000,1)" font-size="14.90" stroke-width="0.20">l</text>
<text transform="translate(388.90,256.80) scale(1.080,1)" font-size="15.80" stroke-width="0.20">n</text>
<text transform="translate(398.00,257.00) scale(1.000,1)" font-size="17.60" stroke-width="0.45">(</text>
<text transform="translate(403.80,256.80) scale(1.130,1)" font-size="15.80" font-style="italic" stroke-width="0.08">k</text>
<text transform="translate(412.30,257.00) scale(1.000,1)" font-size="17.60" stroke-width="0.45">)</text>
<text transform="translate(384.70,529.55) scale(1.000,1)" font-size="14.90" stroke-width="0.20">l</text>
<text transform="translate(388.90,529.55) scale(1.080,1)" font-size="15.80" stroke-width="0.20">n</text>
<text transform="translate(398.00,529.75) scale(1.000,1)" font-size="17.60" stroke-width="0.45">(</text>
<text transform="translate(403.80,529.55) scale(1.130,1)" font-size="15.80" font-style="italic" stroke-width="0.08">k</text>
<text transform="translate(412.30,529.75) scale(1.000,1)" font-size="17.60" stroke-width="0.45">)</text>
</g>
</svg>
</div>
</body>
</html>
